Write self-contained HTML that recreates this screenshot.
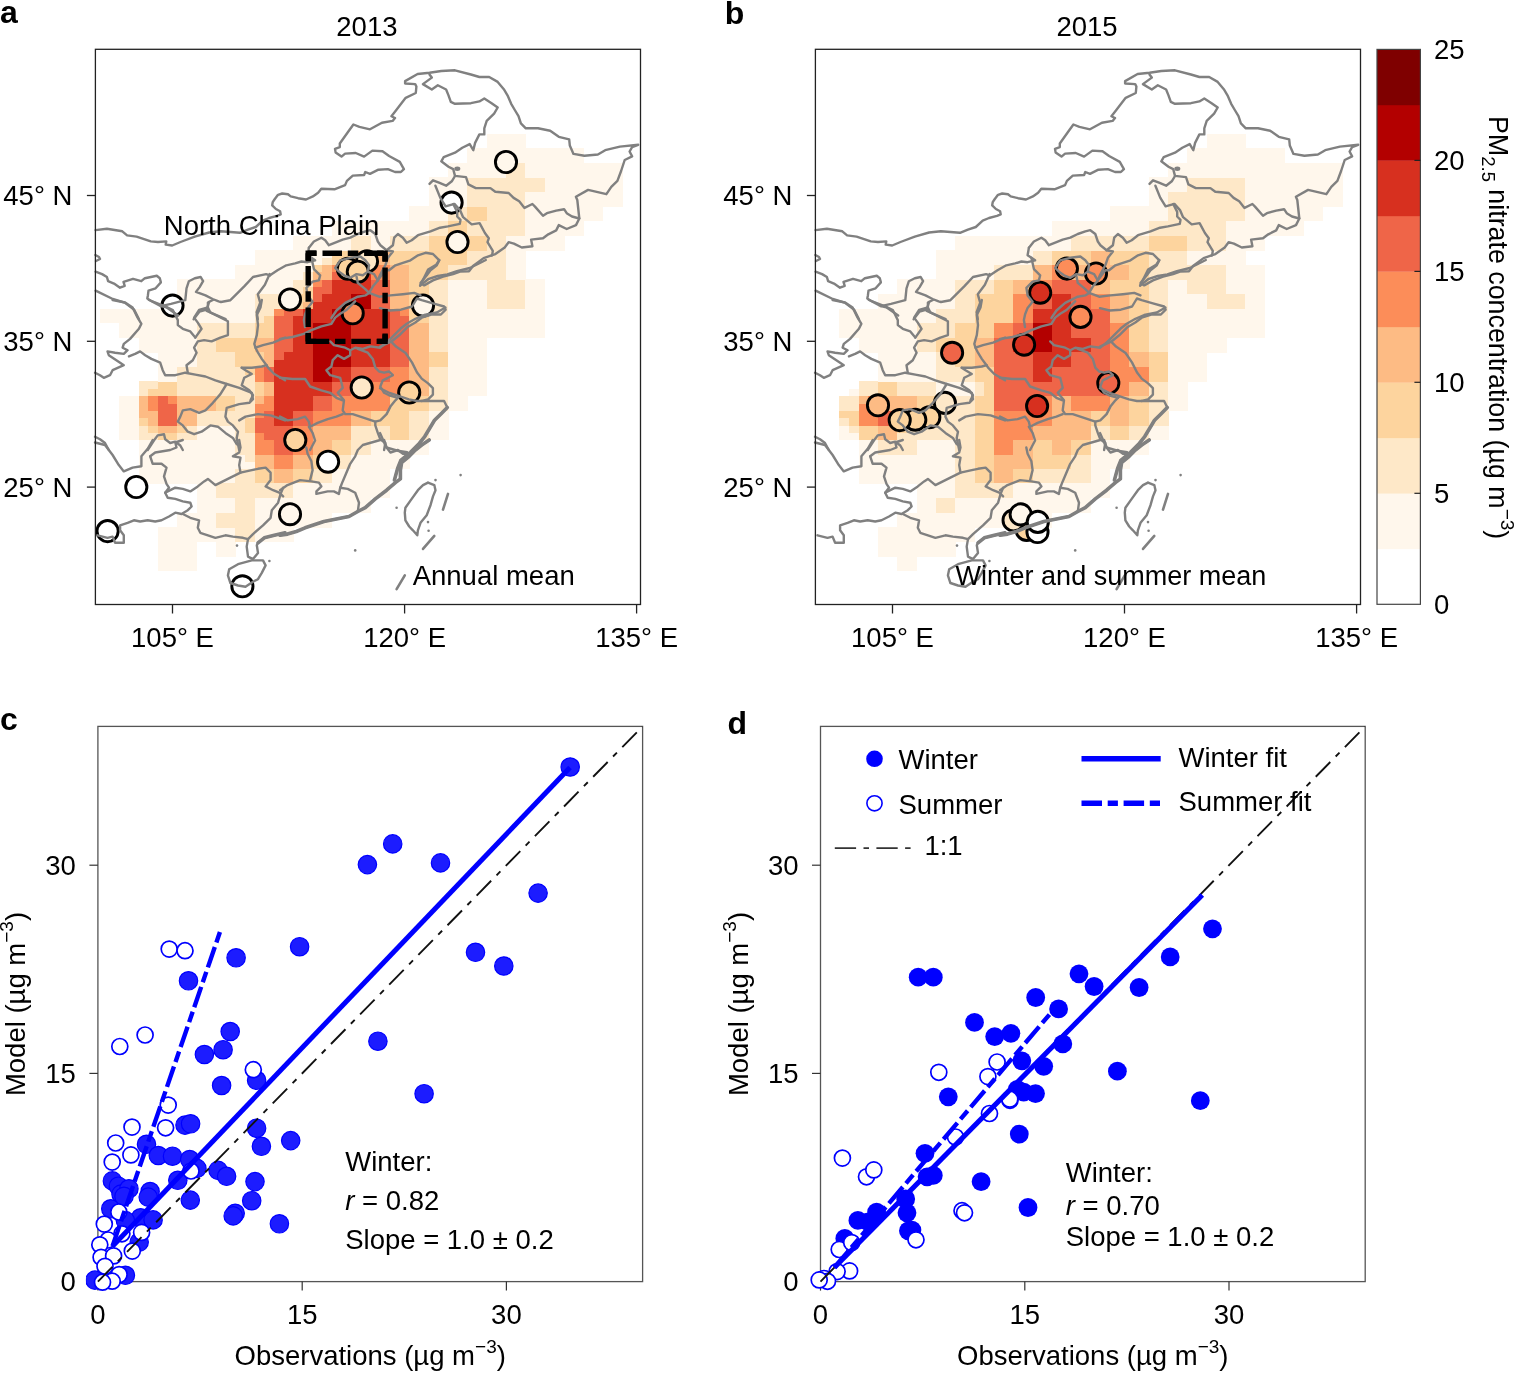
<!DOCTYPE html><html><head><meta charset="utf-8"><style>html,body{margin:0;padding:0;background:#fff;}svg{display:block;}</style></head><body><svg width="1515" height="1373" viewBox="0 0 1515 1373" font-family='"Liberation Sans", Arial, Helvetica, sans-serif'>
<rect width="1515" height="1373" fill="#fff"/>
<g shape-rendering="crispEdges">
<rect x="99.97" y="315.79" width="155.13" height="7.69" fill="#fff7ec"/>
<rect x="254.70" y="315.79" width="10.07" height="7.69" fill="#fee8c8"/>
<rect x="264.37" y="315.79" width="10.07" height="7.69" fill="#fdd49e"/>
<rect x="274.04" y="315.79" width="19.74" height="7.69" fill="#ef6548"/>
<rect x="293.38" y="315.79" width="39.08" height="7.69" fill="#d7301f"/>
<rect x="332.07" y="315.79" width="19.74" height="7.69" fill="#b30000"/>
<rect x="351.41" y="315.79" width="39.08" height="7.69" fill="#d7301f"/>
<rect x="390.09" y="315.79" width="19.74" height="7.69" fill="#ef6548"/>
<rect x="409.43" y="315.79" width="19.74" height="7.69" fill="#fdd49e"/>
<rect x="428.77" y="315.79" width="19.74" height="7.69" fill="#fee8c8"/>
<rect x="448.11" y="315.79" width="97.11" height="7.69" fill="#fff7ec"/>
<rect x="99.97" y="308.50" width="155.13" height="7.69" fill="#fff7ec"/>
<rect x="254.70" y="308.50" width="19.74" height="7.69" fill="#fee8c8"/>
<rect x="274.04" y="308.50" width="10.07" height="7.69" fill="#fc8d59"/>
<rect x="283.71" y="308.50" width="19.74" height="7.69" fill="#ef6548"/>
<rect x="303.05" y="308.50" width="29.41" height="7.69" fill="#d7301f"/>
<rect x="332.07" y="308.50" width="19.74" height="7.69" fill="#b30000"/>
<rect x="351.41" y="308.50" width="39.08" height="7.69" fill="#d7301f"/>
<rect x="390.09" y="308.50" width="10.07" height="7.69" fill="#ef6548"/>
<rect x="399.76" y="308.50" width="10.07" height="7.69" fill="#fc8d59"/>
<rect x="409.43" y="308.50" width="19.74" height="7.69" fill="#fdd49e"/>
<rect x="428.77" y="308.50" width="19.74" height="7.69" fill="#fee8c8"/>
<rect x="448.11" y="308.50" width="97.11" height="7.69" fill="#fff7ec"/>
<rect x="119.31" y="432.43" width="19.74" height="7.69" fill="#fff7ec"/>
<rect x="138.65" y="432.43" width="19.74" height="7.69" fill="#fee8c8"/>
<rect x="157.99" y="432.43" width="19.74" height="7.69" fill="#fdd49e"/>
<rect x="177.34" y="432.43" width="19.74" height="7.69" fill="#fee8c8"/>
<rect x="196.68" y="432.43" width="39.08" height="7.69" fill="#fff7ec"/>
<rect x="235.36" y="432.43" width="19.74" height="7.69" fill="#fee8c8"/>
<rect x="254.70" y="432.43" width="10.07" height="7.69" fill="#fc8d59"/>
<rect x="264.37" y="432.43" width="29.41" height="7.69" fill="#ef6548"/>
<rect x="293.38" y="432.43" width="19.74" height="7.69" fill="#fc8d59"/>
<rect x="312.72" y="432.43" width="39.08" height="7.69" fill="#fdbb84"/>
<rect x="351.41" y="432.43" width="39.08" height="7.69" fill="#fee8c8"/>
<rect x="390.09" y="432.43" width="19.74" height="7.69" fill="#fdd49e"/>
<rect x="409.43" y="432.43" width="19.74" height="7.69" fill="#fee8c8"/>
<rect x="428.77" y="432.43" width="19.74" height="7.69" fill="#fff7ec"/>
<rect x="119.31" y="425.13" width="19.74" height="7.69" fill="#fff7ec"/>
<rect x="138.65" y="425.13" width="10.07" height="7.69" fill="#fee8c8"/>
<rect x="148.32" y="425.13" width="10.07" height="7.69" fill="#fdd49e"/>
<rect x="157.99" y="425.13" width="19.74" height="7.69" fill="#fdbb84"/>
<rect x="177.34" y="425.13" width="10.07" height="7.69" fill="#fdd49e"/>
<rect x="187.01" y="425.13" width="10.07" height="7.69" fill="#fee8c8"/>
<rect x="196.68" y="425.13" width="39.08" height="7.69" fill="#fff7ec"/>
<rect x="235.36" y="425.13" width="10.07" height="7.69" fill="#fee8c8"/>
<rect x="245.03" y="425.13" width="10.07" height="7.69" fill="#fdd49e"/>
<rect x="254.70" y="425.13" width="39.08" height="7.69" fill="#ef6548"/>
<rect x="293.38" y="425.13" width="19.74" height="7.69" fill="#fc8d59"/>
<rect x="312.72" y="425.13" width="39.08" height="7.69" fill="#fdbb84"/>
<rect x="351.41" y="425.13" width="39.08" height="7.69" fill="#fee8c8"/>
<rect x="390.09" y="425.13" width="19.74" height="7.69" fill="#fdd49e"/>
<rect x="409.43" y="425.13" width="19.74" height="7.69" fill="#fee8c8"/>
<rect x="428.77" y="425.13" width="19.74" height="7.69" fill="#fff7ec"/>
<rect x="119.31" y="417.85" width="19.74" height="7.69" fill="#fff7ec"/>
<rect x="138.65" y="417.85" width="10.07" height="7.69" fill="#fdd49e"/>
<rect x="148.32" y="417.85" width="10.07" height="7.69" fill="#fdbb84"/>
<rect x="157.99" y="417.85" width="19.74" height="7.69" fill="#ef6548"/>
<rect x="177.34" y="417.85" width="19.74" height="7.69" fill="#fdbb84"/>
<rect x="196.68" y="417.85" width="48.75" height="7.69" fill="#fee8c8"/>
<rect x="245.03" y="417.85" width="10.07" height="7.69" fill="#fdd49e"/>
<rect x="254.70" y="417.85" width="19.74" height="7.69" fill="#ef6548"/>
<rect x="274.04" y="417.85" width="19.74" height="7.69" fill="#d7301f"/>
<rect x="293.38" y="417.85" width="19.74" height="7.69" fill="#ef6548"/>
<rect x="312.72" y="417.85" width="39.08" height="7.69" fill="#fc8d59"/>
<rect x="351.41" y="417.85" width="19.74" height="7.69" fill="#fdbb84"/>
<rect x="370.75" y="417.85" width="39.08" height="7.69" fill="#fdd49e"/>
<rect x="409.43" y="417.85" width="19.74" height="7.69" fill="#fee8c8"/>
<rect x="428.77" y="417.85" width="19.74" height="7.69" fill="#fff7ec"/>
<rect x="119.31" y="410.56" width="19.74" height="7.69" fill="#fff7ec"/>
<rect x="138.65" y="410.56" width="19.74" height="7.69" fill="#fdbb84"/>
<rect x="157.99" y="410.56" width="19.74" height="7.69" fill="#ef6548"/>
<rect x="177.34" y="410.56" width="19.74" height="7.69" fill="#fdbb84"/>
<rect x="196.68" y="410.56" width="58.42" height="7.69" fill="#fee8c8"/>
<rect x="254.70" y="410.56" width="10.07" height="7.69" fill="#fc8d59"/>
<rect x="264.37" y="410.56" width="10.07" height="7.69" fill="#ef6548"/>
<rect x="274.04" y="410.56" width="19.74" height="7.69" fill="#d7301f"/>
<rect x="293.38" y="410.56" width="19.74" height="7.69" fill="#ef6548"/>
<rect x="312.72" y="410.56" width="39.08" height="7.69" fill="#fc8d59"/>
<rect x="351.41" y="410.56" width="19.74" height="7.69" fill="#fdbb84"/>
<rect x="370.75" y="410.56" width="39.08" height="7.69" fill="#fdd49e"/>
<rect x="409.43" y="410.56" width="19.74" height="7.69" fill="#fee8c8"/>
<rect x="428.77" y="410.56" width="19.74" height="7.69" fill="#fff7ec"/>
<rect x="119.31" y="403.27" width="19.74" height="7.69" fill="#fff7ec"/>
<rect x="138.65" y="403.27" width="10.07" height="7.69" fill="#fdbb84"/>
<rect x="148.32" y="403.27" width="10.07" height="7.69" fill="#fc8d59"/>
<rect x="157.99" y="403.27" width="19.74" height="7.69" fill="#ef6548"/>
<rect x="177.34" y="403.27" width="39.08" height="7.69" fill="#fdbb84"/>
<rect x="216.02" y="403.27" width="19.74" height="7.69" fill="#fdd49e"/>
<rect x="235.36" y="403.27" width="19.74" height="7.69" fill="#fee8c8"/>
<rect x="254.70" y="403.27" width="19.74" height="7.69" fill="#fc8d59"/>
<rect x="274.04" y="403.27" width="39.08" height="7.69" fill="#d7301f"/>
<rect x="312.72" y="403.27" width="19.74" height="7.69" fill="#ef6548"/>
<rect x="332.07" y="403.27" width="58.42" height="7.69" fill="#fc8d59"/>
<rect x="390.09" y="403.27" width="39.08" height="7.69" fill="#fdd49e"/>
<rect x="428.77" y="403.27" width="19.74" height="7.69" fill="#fee8c8"/>
<rect x="448.11" y="403.27" width="19.74" height="7.69" fill="#fff7ec"/>
<rect x="119.31" y="395.98" width="19.74" height="7.69" fill="#fff7ec"/>
<rect x="138.65" y="395.98" width="10.07" height="7.69" fill="#fdbb84"/>
<rect x="148.32" y="395.98" width="10.07" height="7.69" fill="#fc8d59"/>
<rect x="157.99" y="395.98" width="10.07" height="7.69" fill="#ef6548"/>
<rect x="167.66" y="395.98" width="10.07" height="7.69" fill="#fc8d59"/>
<rect x="177.34" y="395.98" width="39.08" height="7.69" fill="#fdbb84"/>
<rect x="216.02" y="395.98" width="19.74" height="7.69" fill="#fdd49e"/>
<rect x="235.36" y="395.98" width="19.74" height="7.69" fill="#fee8c8"/>
<rect x="254.70" y="395.98" width="10.07" height="7.69" fill="#fdbb84"/>
<rect x="264.37" y="395.98" width="10.07" height="7.69" fill="#fc8d59"/>
<rect x="274.04" y="395.98" width="39.08" height="7.69" fill="#d7301f"/>
<rect x="312.72" y="395.98" width="19.74" height="7.69" fill="#ef6548"/>
<rect x="332.07" y="395.98" width="58.42" height="7.69" fill="#fc8d59"/>
<rect x="390.09" y="395.98" width="39.08" height="7.69" fill="#fdd49e"/>
<rect x="428.77" y="395.98" width="19.74" height="7.69" fill="#fee8c8"/>
<rect x="448.11" y="395.98" width="19.74" height="7.69" fill="#fff7ec"/>
<rect x="119.31" y="330.37" width="77.76" height="7.69" fill="#fff7ec"/>
<rect x="196.68" y="330.37" width="58.42" height="7.69" fill="#fee8c8"/>
<rect x="254.70" y="330.37" width="19.74" height="7.69" fill="#fdd49e"/>
<rect x="274.04" y="330.37" width="19.74" height="7.69" fill="#ef6548"/>
<rect x="293.38" y="330.37" width="19.74" height="7.69" fill="#d7301f"/>
<rect x="312.72" y="330.37" width="39.08" height="7.69" fill="#b30000"/>
<rect x="351.41" y="330.37" width="39.08" height="7.69" fill="#d7301f"/>
<rect x="390.09" y="330.37" width="19.74" height="7.69" fill="#ef6548"/>
<rect x="409.43" y="330.37" width="19.74" height="7.69" fill="#fdbb84"/>
<rect x="428.77" y="330.37" width="19.74" height="7.69" fill="#fee8c8"/>
<rect x="448.11" y="330.37" width="97.11" height="7.69" fill="#fff7ec"/>
<rect x="119.31" y="323.08" width="77.76" height="7.69" fill="#fff7ec"/>
<rect x="196.68" y="323.08" width="58.42" height="7.69" fill="#fee8c8"/>
<rect x="254.70" y="323.08" width="19.74" height="7.69" fill="#fdd49e"/>
<rect x="274.04" y="323.08" width="19.74" height="7.69" fill="#ef6548"/>
<rect x="293.38" y="323.08" width="19.74" height="7.69" fill="#d7301f"/>
<rect x="312.72" y="323.08" width="39.08" height="7.69" fill="#b30000"/>
<rect x="351.41" y="323.08" width="39.08" height="7.69" fill="#d7301f"/>
<rect x="390.09" y="323.08" width="19.74" height="7.69" fill="#ef6548"/>
<rect x="409.43" y="323.08" width="19.74" height="7.69" fill="#fdbb84"/>
<rect x="428.77" y="323.08" width="19.74" height="7.69" fill="#fee8c8"/>
<rect x="448.11" y="323.08" width="97.11" height="7.69" fill="#fff7ec"/>
<rect x="138.65" y="476.17" width="97.11" height="7.69" fill="#fff7ec"/>
<rect x="235.36" y="476.17" width="19.74" height="7.69" fill="#fee8c8"/>
<rect x="254.70" y="476.17" width="19.74" height="7.69" fill="#fdd49e"/>
<rect x="274.04" y="476.17" width="19.74" height="7.69" fill="#fdbb84"/>
<rect x="293.38" y="476.17" width="19.74" height="7.69" fill="#fdd49e"/>
<rect x="312.72" y="476.17" width="19.74" height="7.69" fill="#fee8c8"/>
<rect x="332.07" y="476.17" width="58.42" height="7.69" fill="#fff7ec"/>
<rect x="138.65" y="468.88" width="97.11" height="7.69" fill="#fff7ec"/>
<rect x="235.36" y="468.88" width="19.74" height="7.69" fill="#fee8c8"/>
<rect x="254.70" y="468.88" width="19.74" height="7.69" fill="#fdd49e"/>
<rect x="274.04" y="468.88" width="19.74" height="7.69" fill="#fdbb84"/>
<rect x="293.38" y="468.88" width="19.74" height="7.69" fill="#fdd49e"/>
<rect x="312.72" y="468.88" width="19.74" height="7.69" fill="#fee8c8"/>
<rect x="332.07" y="468.88" width="58.42" height="7.69" fill="#fff7ec"/>
<rect x="138.65" y="461.59" width="116.45" height="7.69" fill="#fff7ec"/>
<rect x="254.70" y="461.59" width="19.74" height="7.69" fill="#fdbb84"/>
<rect x="274.04" y="461.59" width="19.74" height="7.69" fill="#fc8d59"/>
<rect x="293.38" y="461.59" width="19.74" height="7.69" fill="#fdbb84"/>
<rect x="312.72" y="461.59" width="19.74" height="7.69" fill="#fdd49e"/>
<rect x="332.07" y="461.59" width="19.74" height="7.69" fill="#fee8c8"/>
<rect x="351.41" y="461.59" width="58.42" height="7.69" fill="#fff7ec"/>
<rect x="138.65" y="454.30" width="106.78" height="7.69" fill="#fff7ec"/>
<rect x="245.03" y="454.30" width="10.07" height="7.69" fill="#fee8c8"/>
<rect x="254.70" y="454.30" width="19.74" height="7.69" fill="#fdbb84"/>
<rect x="274.04" y="454.30" width="19.74" height="7.69" fill="#fc8d59"/>
<rect x="293.38" y="454.30" width="19.74" height="7.69" fill="#fdbb84"/>
<rect x="312.72" y="454.30" width="19.74" height="7.69" fill="#fdd49e"/>
<rect x="332.07" y="454.30" width="19.74" height="7.69" fill="#fee8c8"/>
<rect x="351.41" y="454.30" width="58.42" height="7.69" fill="#fff7ec"/>
<rect x="138.65" y="447.00" width="97.11" height="7.69" fill="#fff7ec"/>
<rect x="235.36" y="447.00" width="19.74" height="7.69" fill="#fee8c8"/>
<rect x="254.70" y="447.00" width="19.74" height="7.69" fill="#fc8d59"/>
<rect x="274.04" y="447.00" width="19.74" height="7.69" fill="#ef6548"/>
<rect x="293.38" y="447.00" width="19.74" height="7.69" fill="#fc8d59"/>
<rect x="312.72" y="447.00" width="19.74" height="7.69" fill="#fdbb84"/>
<rect x="332.07" y="447.00" width="19.74" height="7.69" fill="#fdd49e"/>
<rect x="351.41" y="447.00" width="19.74" height="7.69" fill="#fee8c8"/>
<rect x="370.75" y="447.00" width="58.42" height="7.69" fill="#fff7ec"/>
<rect x="138.65" y="439.72" width="97.11" height="7.69" fill="#fff7ec"/>
<rect x="235.36" y="439.72" width="19.74" height="7.69" fill="#fee8c8"/>
<rect x="254.70" y="439.72" width="19.74" height="7.69" fill="#fc8d59"/>
<rect x="274.04" y="439.72" width="19.74" height="7.69" fill="#ef6548"/>
<rect x="293.38" y="439.72" width="19.74" height="7.69" fill="#fc8d59"/>
<rect x="312.72" y="439.72" width="19.74" height="7.69" fill="#fdbb84"/>
<rect x="332.07" y="439.72" width="19.74" height="7.69" fill="#fdd49e"/>
<rect x="351.41" y="439.72" width="19.74" height="7.69" fill="#fee8c8"/>
<rect x="370.75" y="439.72" width="58.42" height="7.69" fill="#fff7ec"/>
<rect x="138.65" y="388.69" width="10.07" height="7.69" fill="#fee8c8"/>
<rect x="148.32" y="388.69" width="29.41" height="7.69" fill="#fdd49e"/>
<rect x="177.34" y="388.69" width="77.77" height="7.69" fill="#fee8c8"/>
<rect x="254.70" y="388.69" width="10.07" height="7.69" fill="#fdd49e"/>
<rect x="264.37" y="388.69" width="10.07" height="7.69" fill="#fdbb84"/>
<rect x="274.04" y="388.69" width="58.42" height="7.69" fill="#d7301f"/>
<rect x="332.07" y="388.69" width="19.74" height="7.69" fill="#ef6548"/>
<rect x="351.41" y="388.69" width="58.42" height="7.69" fill="#fc8d59"/>
<rect x="409.43" y="388.69" width="19.74" height="7.69" fill="#fdbb84"/>
<rect x="428.77" y="388.69" width="19.74" height="7.69" fill="#fee8c8"/>
<rect x="448.11" y="388.69" width="39.08" height="7.69" fill="#fff7ec"/>
<rect x="138.65" y="381.40" width="19.74" height="7.69" fill="#fee8c8"/>
<rect x="157.99" y="381.40" width="19.74" height="7.69" fill="#fdd49e"/>
<rect x="177.34" y="381.40" width="77.77" height="7.69" fill="#fee8c8"/>
<rect x="254.70" y="381.40" width="10.07" height="7.69" fill="#fdd49e"/>
<rect x="264.37" y="381.40" width="10.07" height="7.69" fill="#fdbb84"/>
<rect x="274.04" y="381.40" width="58.42" height="7.69" fill="#d7301f"/>
<rect x="332.07" y="381.40" width="19.74" height="7.69" fill="#ef6548"/>
<rect x="351.41" y="381.40" width="58.42" height="7.69" fill="#fc8d59"/>
<rect x="409.43" y="381.40" width="19.74" height="7.69" fill="#fdbb84"/>
<rect x="428.77" y="381.40" width="19.74" height="7.69" fill="#fee8c8"/>
<rect x="448.11" y="381.40" width="39.08" height="7.69" fill="#fff7ec"/>
<rect x="138.65" y="344.95" width="58.42" height="7.69" fill="#fff7ec"/>
<rect x="196.68" y="344.95" width="19.74" height="7.69" fill="#fee8c8"/>
<rect x="216.02" y="344.95" width="39.08" height="7.69" fill="#fdd49e"/>
<rect x="254.70" y="344.95" width="19.74" height="7.69" fill="#fdbb84"/>
<rect x="274.04" y="344.95" width="19.74" height="7.69" fill="#ef6548"/>
<rect x="293.38" y="344.95" width="19.74" height="7.69" fill="#d7301f"/>
<rect x="312.72" y="344.95" width="39.08" height="7.69" fill="#b30000"/>
<rect x="351.41" y="344.95" width="39.08" height="7.69" fill="#d7301f"/>
<rect x="390.09" y="344.95" width="19.74" height="7.69" fill="#ef6548"/>
<rect x="409.43" y="344.95" width="19.74" height="7.69" fill="#fdbb84"/>
<rect x="428.77" y="344.95" width="19.74" height="7.69" fill="#fee8c8"/>
<rect x="448.11" y="344.95" width="39.08" height="7.69" fill="#fff7ec"/>
<rect x="138.65" y="337.66" width="58.42" height="7.69" fill="#fff7ec"/>
<rect x="196.68" y="337.66" width="19.74" height="7.69" fill="#fee8c8"/>
<rect x="216.02" y="337.66" width="39.08" height="7.69" fill="#fdd49e"/>
<rect x="254.70" y="337.66" width="19.74" height="7.69" fill="#fdbb84"/>
<rect x="274.04" y="337.66" width="19.74" height="7.69" fill="#ef6548"/>
<rect x="293.38" y="337.66" width="19.74" height="7.69" fill="#d7301f"/>
<rect x="312.72" y="337.66" width="39.08" height="7.69" fill="#b30000"/>
<rect x="351.41" y="337.66" width="39.08" height="7.69" fill="#d7301f"/>
<rect x="390.09" y="337.66" width="19.74" height="7.69" fill="#ef6548"/>
<rect x="409.43" y="337.66" width="19.74" height="7.69" fill="#fdbb84"/>
<rect x="428.77" y="337.66" width="19.74" height="7.69" fill="#fee8c8"/>
<rect x="448.11" y="337.66" width="39.08" height="7.69" fill="#fff7ec"/>
<rect x="157.99" y="563.64" width="39.08" height="7.69" fill="#fff7ec"/>
<rect x="157.99" y="556.36" width="39.08" height="7.69" fill="#fff7ec"/>
<rect x="157.99" y="549.07" width="39.08" height="7.69" fill="#fff7ec"/>
<rect x="216.02" y="549.07" width="19.74" height="7.69" fill="#fff7ec"/>
<rect x="157.99" y="541.77" width="39.08" height="7.69" fill="#fff7ec"/>
<rect x="216.02" y="541.77" width="19.74" height="7.69" fill="#fff7ec"/>
<rect x="157.99" y="534.49" width="77.76" height="7.69" fill="#fff7ec"/>
<rect x="235.36" y="534.49" width="19.74" height="7.69" fill="#fee8c8"/>
<rect x="254.70" y="534.49" width="39.08" height="7.69" fill="#fff7ec"/>
<rect x="157.99" y="527.20" width="77.76" height="7.69" fill="#fff7ec"/>
<rect x="235.36" y="527.20" width="19.74" height="7.69" fill="#fee8c8"/>
<rect x="254.70" y="527.20" width="39.08" height="7.69" fill="#fff7ec"/>
<rect x="157.99" y="374.11" width="19.74" height="7.69" fill="#fff7ec"/>
<rect x="177.34" y="374.11" width="77.77" height="7.69" fill="#fee8c8"/>
<rect x="254.70" y="374.11" width="10.07" height="7.69" fill="#fc8d59"/>
<rect x="264.37" y="374.11" width="10.07" height="7.69" fill="#ef6548"/>
<rect x="274.04" y="374.11" width="39.08" height="7.69" fill="#d7301f"/>
<rect x="312.72" y="374.11" width="19.74" height="7.69" fill="#b30000"/>
<rect x="332.07" y="374.11" width="19.74" height="7.69" fill="#d7301f"/>
<rect x="351.41" y="374.11" width="39.08" height="7.69" fill="#ef6548"/>
<rect x="390.09" y="374.11" width="19.74" height="7.69" fill="#fc8d59"/>
<rect x="409.43" y="374.11" width="19.74" height="7.69" fill="#fdbb84"/>
<rect x="428.77" y="374.11" width="19.74" height="7.69" fill="#fee8c8"/>
<rect x="448.11" y="374.11" width="39.08" height="7.69" fill="#fff7ec"/>
<rect x="157.99" y="366.82" width="19.74" height="7.69" fill="#fff7ec"/>
<rect x="177.34" y="366.82" width="68.09" height="7.69" fill="#fee8c8"/>
<rect x="245.03" y="366.82" width="10.07" height="7.69" fill="#fdd49e"/>
<rect x="254.70" y="366.82" width="10.07" height="7.69" fill="#fc8d59"/>
<rect x="264.37" y="366.82" width="10.07" height="7.69" fill="#ef6548"/>
<rect x="274.04" y="366.82" width="39.08" height="7.69" fill="#d7301f"/>
<rect x="312.72" y="366.82" width="19.74" height="7.69" fill="#b30000"/>
<rect x="332.07" y="366.82" width="19.74" height="7.69" fill="#d7301f"/>
<rect x="351.41" y="366.82" width="39.08" height="7.69" fill="#ef6548"/>
<rect x="390.09" y="366.82" width="19.74" height="7.69" fill="#fc8d59"/>
<rect x="409.43" y="366.82" width="19.74" height="7.69" fill="#fdbb84"/>
<rect x="428.77" y="366.82" width="19.74" height="7.69" fill="#fee8c8"/>
<rect x="448.11" y="366.82" width="39.08" height="7.69" fill="#fff7ec"/>
<rect x="157.99" y="359.53" width="39.08" height="7.69" fill="#fff7ec"/>
<rect x="196.68" y="359.53" width="39.08" height="7.69" fill="#fee8c8"/>
<rect x="235.36" y="359.53" width="29.41" height="7.69" fill="#fdd49e"/>
<rect x="264.37" y="359.53" width="10.07" height="7.69" fill="#fdbb84"/>
<rect x="274.04" y="359.53" width="39.08" height="7.69" fill="#d7301f"/>
<rect x="312.72" y="359.53" width="39.08" height="7.69" fill="#b30000"/>
<rect x="351.41" y="359.53" width="39.08" height="7.69" fill="#d7301f"/>
<rect x="390.09" y="359.53" width="19.74" height="7.69" fill="#ef6548"/>
<rect x="409.43" y="359.53" width="19.74" height="7.69" fill="#fdbb84"/>
<rect x="428.77" y="359.53" width="19.74" height="7.69" fill="#fdd49e"/>
<rect x="448.11" y="359.53" width="39.08" height="7.69" fill="#fff7ec"/>
<rect x="157.99" y="352.24" width="39.08" height="7.69" fill="#fff7ec"/>
<rect x="196.68" y="352.24" width="39.08" height="7.69" fill="#fee8c8"/>
<rect x="235.36" y="352.24" width="29.41" height="7.69" fill="#fdd49e"/>
<rect x="264.37" y="352.24" width="10.07" height="7.69" fill="#fdbb84"/>
<rect x="274.04" y="352.24" width="10.07" height="7.69" fill="#ef6548"/>
<rect x="283.71" y="352.24" width="29.41" height="7.69" fill="#d7301f"/>
<rect x="312.72" y="352.24" width="39.08" height="7.69" fill="#b30000"/>
<rect x="351.41" y="352.24" width="39.08" height="7.69" fill="#d7301f"/>
<rect x="390.09" y="352.24" width="19.74" height="7.69" fill="#ef6548"/>
<rect x="409.43" y="352.24" width="19.74" height="7.69" fill="#fdbb84"/>
<rect x="428.77" y="352.24" width="19.74" height="7.69" fill="#fdd49e"/>
<rect x="448.11" y="352.24" width="39.08" height="7.69" fill="#fff7ec"/>
<rect x="177.34" y="519.90" width="39.08" height="7.69" fill="#fff7ec"/>
<rect x="216.02" y="519.90" width="39.08" height="7.69" fill="#fee8c8"/>
<rect x="254.70" y="519.90" width="77.77" height="7.69" fill="#fff7ec"/>
<rect x="177.34" y="512.62" width="39.08" height="7.69" fill="#fff7ec"/>
<rect x="216.02" y="512.62" width="39.08" height="7.69" fill="#fee8c8"/>
<rect x="254.70" y="512.62" width="77.77" height="7.69" fill="#fff7ec"/>
<rect x="177.34" y="301.21" width="77.77" height="7.69" fill="#fff7ec"/>
<rect x="254.70" y="301.21" width="29.41" height="7.69" fill="#fee8c8"/>
<rect x="283.71" y="301.21" width="19.74" height="7.69" fill="#fdd49e"/>
<rect x="303.05" y="301.21" width="10.07" height="7.69" fill="#fdbb84"/>
<rect x="312.72" y="301.21" width="39.08" height="7.69" fill="#d7301f"/>
<rect x="351.41" y="301.21" width="19.74" height="7.69" fill="#b30000"/>
<rect x="370.75" y="301.21" width="19.74" height="7.69" fill="#ef6548"/>
<rect x="390.09" y="301.21" width="19.74" height="7.69" fill="#fdbb84"/>
<rect x="409.43" y="301.21" width="19.74" height="7.69" fill="#fdd49e"/>
<rect x="428.77" y="301.21" width="19.74" height="7.69" fill="#fee8c8"/>
<rect x="448.11" y="301.21" width="39.08" height="7.69" fill="#fff7ec"/>
<rect x="486.80" y="301.21" width="39.08" height="7.69" fill="#fee8c8"/>
<rect x="525.48" y="301.21" width="19.74" height="7.69" fill="#fff7ec"/>
<rect x="177.34" y="293.92" width="77.77" height="7.69" fill="#fff7ec"/>
<rect x="254.70" y="293.92" width="39.08" height="7.69" fill="#fee8c8"/>
<rect x="293.38" y="293.92" width="19.74" height="7.69" fill="#fdd49e"/>
<rect x="312.72" y="293.92" width="10.07" height="7.69" fill="#ef6548"/>
<rect x="322.39" y="293.92" width="29.41" height="7.69" fill="#d7301f"/>
<rect x="351.41" y="293.92" width="19.74" height="7.69" fill="#b30000"/>
<rect x="370.75" y="293.92" width="19.74" height="7.69" fill="#ef6548"/>
<rect x="390.09" y="293.92" width="19.74" height="7.69" fill="#fdbb84"/>
<rect x="409.43" y="293.92" width="19.74" height="7.69" fill="#fdd49e"/>
<rect x="428.77" y="293.92" width="19.74" height="7.69" fill="#fee8c8"/>
<rect x="448.11" y="293.92" width="39.08" height="7.69" fill="#fff7ec"/>
<rect x="486.80" y="293.92" width="39.08" height="7.69" fill="#fee8c8"/>
<rect x="525.48" y="293.92" width="19.74" height="7.69" fill="#fff7ec"/>
<rect x="177.34" y="286.62" width="116.45" height="7.69" fill="#fff7ec"/>
<rect x="293.38" y="286.62" width="10.07" height="7.69" fill="#fee8c8"/>
<rect x="303.05" y="286.62" width="10.07" height="7.69" fill="#fdd49e"/>
<rect x="312.72" y="286.62" width="19.74" height="7.69" fill="#ef6548"/>
<rect x="332.07" y="286.62" width="39.08" height="7.69" fill="#d7301f"/>
<rect x="370.75" y="286.62" width="19.74" height="7.69" fill="#ef6548"/>
<rect x="390.09" y="286.62" width="19.74" height="7.69" fill="#fdbb84"/>
<rect x="409.43" y="286.62" width="19.74" height="7.69" fill="#fdd49e"/>
<rect x="428.77" y="286.62" width="19.74" height="7.69" fill="#fee8c8"/>
<rect x="448.11" y="286.62" width="39.08" height="7.69" fill="#fff7ec"/>
<rect x="486.80" y="286.62" width="39.08" height="7.69" fill="#fee8c8"/>
<rect x="525.48" y="286.62" width="19.74" height="7.69" fill="#fff7ec"/>
<rect x="177.34" y="279.34" width="116.45" height="7.69" fill="#fff7ec"/>
<rect x="293.38" y="279.34" width="19.74" height="7.69" fill="#fee8c8"/>
<rect x="312.72" y="279.34" width="10.07" height="7.69" fill="#fc8d59"/>
<rect x="322.39" y="279.34" width="10.07" height="7.69" fill="#ef6548"/>
<rect x="332.07" y="279.34" width="39.08" height="7.69" fill="#d7301f"/>
<rect x="370.75" y="279.34" width="19.74" height="7.69" fill="#ef6548"/>
<rect x="390.09" y="279.34" width="19.74" height="7.69" fill="#fdbb84"/>
<rect x="409.43" y="279.34" width="19.74" height="7.69" fill="#fdd49e"/>
<rect x="428.77" y="279.34" width="19.74" height="7.69" fill="#fee8c8"/>
<rect x="448.11" y="279.34" width="39.08" height="7.69" fill="#fff7ec"/>
<rect x="486.80" y="279.34" width="39.08" height="7.69" fill="#fee8c8"/>
<rect x="525.48" y="279.34" width="19.74" height="7.69" fill="#fff7ec"/>
<rect x="196.68" y="505.33" width="39.08" height="7.69" fill="#fff7ec"/>
<rect x="235.36" y="505.33" width="19.74" height="7.69" fill="#fee8c8"/>
<rect x="254.70" y="505.33" width="116.45" height="7.69" fill="#fff7ec"/>
<rect x="196.68" y="498.04" width="39.08" height="7.69" fill="#fff7ec"/>
<rect x="235.36" y="498.04" width="19.74" height="7.69" fill="#fee8c8"/>
<rect x="254.70" y="498.04" width="116.45" height="7.69" fill="#fff7ec"/>
<rect x="196.68" y="490.75" width="19.74" height="7.69" fill="#fff7ec"/>
<rect x="216.02" y="490.75" width="77.77" height="7.69" fill="#fee8c8"/>
<rect x="293.38" y="490.75" width="97.11" height="7.69" fill="#fff7ec"/>
<rect x="196.68" y="483.46" width="19.74" height="7.69" fill="#fff7ec"/>
<rect x="216.02" y="483.46" width="77.77" height="7.69" fill="#fee8c8"/>
<rect x="293.38" y="483.46" width="97.11" height="7.69" fill="#fff7ec"/>
<rect x="235.36" y="272.05" width="68.09" height="7.69" fill="#fff7ec"/>
<rect x="303.05" y="272.05" width="10.07" height="7.69" fill="#fee8c8"/>
<rect x="312.72" y="272.05" width="19.74" height="7.69" fill="#fdbb84"/>
<rect x="332.07" y="272.05" width="19.74" height="7.69" fill="#ef6548"/>
<rect x="351.41" y="272.05" width="19.74" height="7.69" fill="#d7301f"/>
<rect x="370.75" y="272.05" width="19.74" height="7.69" fill="#fc8d59"/>
<rect x="390.09" y="272.05" width="19.74" height="7.69" fill="#fdbb84"/>
<rect x="409.43" y="272.05" width="39.08" height="7.69" fill="#fdd49e"/>
<rect x="448.11" y="272.05" width="58.42" height="7.69" fill="#fee8c8"/>
<rect x="506.14" y="272.05" width="19.74" height="7.69" fill="#fff7ec"/>
<rect x="235.36" y="264.75" width="77.77" height="7.69" fill="#fff7ec"/>
<rect x="312.72" y="264.75" width="10.07" height="7.69" fill="#fdd49e"/>
<rect x="322.39" y="264.75" width="10.07" height="7.69" fill="#fdbb84"/>
<rect x="332.07" y="264.75" width="10.07" height="7.69" fill="#fc8d59"/>
<rect x="341.74" y="264.75" width="10.07" height="7.69" fill="#ef6548"/>
<rect x="351.41" y="264.75" width="10.07" height="7.69" fill="#d7301f"/>
<rect x="361.08" y="264.75" width="10.07" height="7.69" fill="#ef6548"/>
<rect x="370.75" y="264.75" width="19.74" height="7.69" fill="#fc8d59"/>
<rect x="390.09" y="264.75" width="19.74" height="7.69" fill="#fdbb84"/>
<rect x="409.43" y="264.75" width="39.08" height="7.69" fill="#fdd49e"/>
<rect x="448.11" y="264.75" width="58.42" height="7.69" fill="#fee8c8"/>
<rect x="506.14" y="264.75" width="19.74" height="7.69" fill="#fff7ec"/>
<rect x="254.70" y="257.47" width="68.09" height="7.69" fill="#fff7ec"/>
<rect x="322.39" y="257.47" width="10.07" height="7.69" fill="#fee8c8"/>
<rect x="332.07" y="257.47" width="10.07" height="7.69" fill="#fdd49e"/>
<rect x="341.74" y="257.47" width="48.75" height="7.69" fill="#fdbb84"/>
<rect x="390.09" y="257.47" width="77.77" height="7.69" fill="#fdd49e"/>
<rect x="467.45" y="257.47" width="39.08" height="7.69" fill="#fee8c8"/>
<rect x="506.14" y="257.47" width="19.74" height="7.69" fill="#fff7ec"/>
<rect x="254.70" y="250.18" width="77.77" height="7.69" fill="#fff7ec"/>
<rect x="332.07" y="250.18" width="19.74" height="7.69" fill="#fdd49e"/>
<rect x="351.41" y="250.18" width="39.08" height="7.69" fill="#fdbb84"/>
<rect x="390.09" y="250.18" width="77.77" height="7.69" fill="#fdd49e"/>
<rect x="467.45" y="250.18" width="39.08" height="7.69" fill="#fee8c8"/>
<rect x="506.14" y="250.18" width="19.74" height="7.69" fill="#fff7ec"/>
<rect x="293.38" y="242.89" width="58.42" height="7.69" fill="#fff7ec"/>
<rect x="351.41" y="242.89" width="19.74" height="7.69" fill="#fee8c8"/>
<rect x="370.75" y="242.89" width="19.74" height="7.69" fill="#fff7ec"/>
<rect x="390.09" y="242.89" width="39.08" height="7.69" fill="#fee8c8"/>
<rect x="428.77" y="242.89" width="58.42" height="7.69" fill="#fdd49e"/>
<rect x="486.80" y="242.89" width="19.74" height="7.69" fill="#fee8c8"/>
<rect x="506.14" y="242.89" width="58.42" height="7.69" fill="#fff7ec"/>
<rect x="293.38" y="235.60" width="58.42" height="7.69" fill="#fff7ec"/>
<rect x="351.41" y="235.60" width="19.74" height="7.69" fill="#fee8c8"/>
<rect x="370.75" y="235.60" width="19.74" height="7.69" fill="#fff7ec"/>
<rect x="390.09" y="235.60" width="39.08" height="7.69" fill="#fee8c8"/>
<rect x="428.77" y="235.60" width="58.42" height="7.69" fill="#fdd49e"/>
<rect x="486.80" y="235.60" width="19.74" height="7.69" fill="#fee8c8"/>
<rect x="506.14" y="235.60" width="58.42" height="7.69" fill="#fff7ec"/>
<rect x="332.07" y="228.31" width="97.11" height="7.69" fill="#fff7ec"/>
<rect x="428.77" y="228.31" width="19.74" height="7.69" fill="#fee8c8"/>
<rect x="448.11" y="228.31" width="19.74" height="7.69" fill="#fdd49e"/>
<rect x="467.45" y="228.31" width="58.42" height="7.69" fill="#fee8c8"/>
<rect x="525.48" y="228.31" width="58.42" height="7.69" fill="#fff7ec"/>
<rect x="332.07" y="221.02" width="97.11" height="7.69" fill="#fff7ec"/>
<rect x="428.77" y="221.02" width="19.74" height="7.69" fill="#fee8c8"/>
<rect x="448.11" y="221.02" width="19.74" height="7.69" fill="#fdd49e"/>
<rect x="467.45" y="221.02" width="58.42" height="7.69" fill="#fee8c8"/>
<rect x="525.48" y="221.02" width="58.42" height="7.69" fill="#fff7ec"/>
<rect x="409.43" y="213.73" width="39.08" height="7.69" fill="#fff7ec"/>
<rect x="448.11" y="213.73" width="19.74" height="7.69" fill="#fee8c8"/>
<rect x="467.45" y="213.73" width="19.74" height="7.69" fill="#fdd49e"/>
<rect x="486.80" y="213.73" width="39.08" height="7.69" fill="#fee8c8"/>
<rect x="525.48" y="213.73" width="77.77" height="7.69" fill="#fff7ec"/>
<rect x="409.43" y="206.44" width="39.08" height="7.69" fill="#fff7ec"/>
<rect x="448.11" y="206.44" width="19.74" height="7.69" fill="#fee8c8"/>
<rect x="467.45" y="206.44" width="19.74" height="7.69" fill="#fdd49e"/>
<rect x="486.80" y="206.44" width="39.08" height="7.69" fill="#fee8c8"/>
<rect x="525.48" y="206.44" width="77.77" height="7.69" fill="#fff7ec"/>
<rect x="428.77" y="199.15" width="39.08" height="7.69" fill="#fff7ec"/>
<rect x="467.45" y="199.15" width="58.42" height="7.69" fill="#fee8c8"/>
<rect x="525.48" y="199.15" width="97.11" height="7.69" fill="#fff7ec"/>
<rect x="428.77" y="191.86" width="39.08" height="7.69" fill="#fff7ec"/>
<rect x="467.45" y="191.86" width="58.42" height="7.69" fill="#fee8c8"/>
<rect x="525.48" y="191.86" width="97.11" height="7.69" fill="#fff7ec"/>
<rect x="428.77" y="184.56" width="39.08" height="7.69" fill="#fff7ec"/>
<rect x="467.45" y="184.56" width="77.76" height="7.69" fill="#fee8c8"/>
<rect x="544.82" y="184.56" width="77.77" height="7.69" fill="#fff7ec"/>
<rect x="428.77" y="177.28" width="39.08" height="7.69" fill="#fff7ec"/>
<rect x="467.45" y="177.28" width="77.76" height="7.69" fill="#fee8c8"/>
<rect x="544.82" y="177.28" width="77.77" height="7.69" fill="#fff7ec"/>
<rect x="448.11" y="169.99" width="58.42" height="7.69" fill="#fff7ec"/>
<rect x="506.14" y="169.99" width="19.74" height="7.69" fill="#fee8c8"/>
<rect x="525.48" y="169.99" width="97.11" height="7.69" fill="#fff7ec"/>
<rect x="448.11" y="162.69" width="58.42" height="7.69" fill="#fff7ec"/>
<rect x="506.14" y="162.69" width="19.74" height="7.69" fill="#fee8c8"/>
<rect x="525.48" y="162.69" width="97.11" height="7.69" fill="#fff7ec"/>
<rect x="467.45" y="155.41" width="116.45" height="7.69" fill="#fff7ec"/>
<rect x="467.45" y="148.12" width="116.45" height="7.69" fill="#fff7ec"/>
<rect x="486.80" y="140.83" width="39.08" height="7.69" fill="#fff7ec"/>
<rect x="486.80" y="133.54" width="39.08" height="7.69" fill="#fff7ec"/>
</g>
<circle cx="506.0" cy="162.0" r="10.6" fill="#fff7ec" stroke="#000" stroke-width="2.9"/>
<circle cx="451.6" cy="202.6" r="10.6" fill="#ffffff" stroke="#000" stroke-width="2.9"/>
<circle cx="457.5" cy="242.0" r="10.6" fill="#fff7ec" stroke="#000" stroke-width="2.9"/>
<circle cx="290.0" cy="299.5" r="10.6" fill="#fff7ec" stroke="#000" stroke-width="2.9"/>
<circle cx="172.5" cy="305.6" r="10.6" fill="#ffffff" stroke="#000" stroke-width="2.9"/>
<circle cx="352.7" cy="313.3" r="10.6" fill="#fc8d59" stroke="#000" stroke-width="2.9"/>
<circle cx="347.9" cy="268.8" r="10.6" fill="#fdd49e" stroke="#000" stroke-width="2.9"/>
<circle cx="367.0" cy="261.2" r="10.6" fill="#fee8c8" stroke="#000" stroke-width="2.9"/>
<circle cx="357.8" cy="271.7" r="10.6" fill="#fdd49e" stroke="#000" stroke-width="2.9"/>
<circle cx="423.0" cy="305.5" r="10.6" fill="#fff7ec" stroke="#000" stroke-width="2.9"/>
<circle cx="361.7" cy="387.5" r="10.6" fill="#fee8c8" stroke="#000" stroke-width="2.9"/>
<circle cx="409.2" cy="392.5" r="10.6" fill="#fdd49e" stroke="#000" stroke-width="2.9"/>
<circle cx="295.3" cy="440.0" r="10.6" fill="#fdd49e" stroke="#000" stroke-width="2.9"/>
<circle cx="328.1" cy="461.7" r="10.6" fill="#ffffff" stroke="#000" stroke-width="2.9"/>
<circle cx="136.3" cy="487.0" r="10.6" fill="#ffffff" stroke="#000" stroke-width="2.9"/>
<circle cx="107.6" cy="531.1" r="10.6" fill="#ffffff" stroke="#000" stroke-width="2.9"/>
<circle cx="290.0" cy="514.2" r="10.6" fill="#fff7ec" stroke="#000" stroke-width="2.9"/>
<circle cx="242.4" cy="586.3" r="10.6" fill="#ffffff" stroke="#000" stroke-width="2.9"/>
<g transform="translate(0,0)" fill="none" stroke="#808080" stroke-width="2.4" stroke-linejoin="round" stroke-linecap="round">
<path d="M95.6,230.1 L106.9,228.7 L122.3,231.3 L127.1,235.4 L136.6,236.6 L150.8,241.4 L158.0,242.0 L166.3,241.4 L165.7,244.6 L172.2,245.5 L180.5,242.0 L194.8,236.6 L209.1,232.5 L220.9,231.3 L240.0,232.8 L247.9,229.6 L255.8,227.0 L262.7,220.7 L269.0,218.0 L277.0,215.9 L280.7,214.3 L280.1,211.2 L275.9,209.0 L272.2,205.3 L272.7,202.2 L274.8,199.0 L278.0,194.8 L282.2,193.5 L288.0,194.3 L290.7,196.4 L298.1,198.2 L306.0,199.5 L312.9,196.4 L318.1,192.7 L321.3,188.7 L334.4,189.3 L345.1,185.1 L346.9,180.9 L352.8,175.6 L364.1,175.0 L365.3,172.0 L370.0,173.8 L378.4,169.7 L387.9,169.1 L395.0,172.0 L400.9,172.0 L403.9,169.1 L399.8,161.9 L389.1,156.0 L382.5,151.2 L372.4,150.6 L364.1,156.6 L355.8,153.0 L345.1,153.6 L341.5,156.6 L335.6,152.4 L335.0,148.9 L339.8,147.1 L339.8,143.5 L348.7,131.0 L353.4,124.5 L359.4,126.9 L370.0,129.3 L381.9,122.7 L392.6,120.9 L395.0,118.0 L391.4,116.2 L393.8,113.2 L405.7,97.8 L415.8,93.0 L416.4,86.5 L415.2,84.1 L405.1,83.5 L405.1,81.1 L417.6,74.0 L429.5,72.8 L441.3,71.0 L455.0,70.3 L470.9,74.5 L479.4,77.0 L489.2,77.0 L497.7,81.9 L503.8,89.2 L507.5,95.3 L511.2,103.8 L514.8,110.0 L518.5,116.1 L520.9,123.4 L525.8,128.3 L538.0,128.3 L550.2,130.7 L558.8,136.8 L569.2,139.3 L569.8,145.4 L573.5,153.9 L584.4,155.7 L597.9,154.5 L605.2,150.2 L619.9,146.6 L638.2,144.8 L632.1,147.2 L629.6,151.5 L632.1,156.4 L624.7,160.0 L621.1,171.0 L617.4,180.8 L611.3,186.9 L606.4,194.2 L588.1,189.9 L575.9,196.7 L577.3,200.0 L579.3,218.5 L576.0,225.1 L566.7,229.0 L558.8,225.1 L556.2,230.4 L548.3,234.3 L543.0,238.3 L531.1,239.6 L532.4,246.2 L521.8,247.5 L513.9,243.6 L508.6,242.2 L504.7,247.5 L495.4,254.1 L491.5,255.4"/>
<path d="M429.5,74.6 L431.8,77.6 L422.9,84.1 L431.8,89.5 L437.8,85.3 L446.1,89.5 L448.5,95.4 L450.8,101.9 L455.0,103.8 L470.9,103.2 L479.4,101.4 L484.3,98.4 L491.6,103.2 L497.7,107.5 L494.1,113.6 L486.7,120.9 L484.3,128.3 L484.3,134.4 L479.4,134.4 L475.1,142.9 L473.3,150.2 L469.7,144.1 L462.3,147.8 L455.0,152.7 L443.7,157.2 L441.3,161.3 L448.5,166.7 L453.2,169.1 L455.0,175.9 L466.0,177.1 L468.4,184.4 L475.8,188.1 L490.4,188.1 L495.3,191.8 L508.7,193.0 L513.6,197.9 L519.2,201.3 L524.5,207.9 L532.4,204.0 L535.0,206.6 L543.0,215.8 L546.9,213.2 L556.2,210.6 L564.1,209.2 L566.7,213.2 L572.0,216.5 L579.3,218.5"/>
<path d="M429.5,183.9 L433.0,180.3 L439.0,182.7 L446.1,185.7 L451.8,181.3 L455.0,176.0"/>
<path d="M435.4,185.7 L440.2,197.6 L445.6,206.4 L454.4,203.9 L460.0,210.1 L463.1,217.2 L471.7,224.4 L479.6,223.1 L484.9,233.0 L488.8,238.3 L487.5,242.2 L492.8,250.8 L492.1,255.4"/>
<path d="M308.9,247.8 L313.9,241.5 L321.4,237.7 L325.2,240.2 L328.9,245.2 L335.2,242.7 L342.7,239.6 L350.3,237.7 L357.8,234.0 L365.3,231.4 L370.3,230.2 L375.3,234.0 L377.8,241.5 L380.4,245.2 L386.6,250.3 L392.9,245.2 L394.2,237.7 L397.9,234.0 L402.9,237.7 L406.7,242.7 L411.7,240.2 L418.0,235.2 L430.5,231.4 L440.0,227.7 L447.9,226.4 L459.8,223.8 L460.5,219.8 L457.2,216.5 L457.2,211.9 L453.2,204.0"/>
<path d="M386.6,250.3 L392.9,251.5 L387.9,257.8 L385.4,265.0 L380.0,275.0 L377.8,280.4"/>
<path d="M270.0,275.3 L277.5,270.3 L286.3,265.3 L295.1,263.4 L301.4,261.5 L307.6,262.2 L315.1,260.3 L311.4,257.8 L307.6,255.3 L308.9,247.8"/>
<path d="M335.2,267.8 L340.2,260.3 L350.3,257.8 L360.3,256.5 L365.3,260.3 L369.1,265.3 L367.8,271.6 L362.8,275.3 L356.5,274.1 L350.3,277.8 L344.0,275.3 L339.0,271.6 L335.2,267.8"/>
<path d="M367.8,271.6 L374.1,274.1 L377.8,280.4 L372.8,286.6 L369.1,292.9 L365.3,289.1 L357.8,282.9 L356.5,276.6"/>
<path d="M377.8,280.4 L385.4,270.3 L389.1,270.3 L395.4,265.3 L402.9,262.8 L410.5,260.3 L418.0,255.3 L425.5,252.8 L433.0,254.0 L439.3,260.3 L436.8,265.3 L430.5,270.3 L426.8,275.3 L420.5,282.9 L424.2,285.4 L433.0,280.4 L443.1,276.6 L453.1,274.1 L460.0,271.6 L469.0,271.3 L473.0,266.0 L483.6,258.1 L491.5,255.4"/>
<path d="M369.1,292.9 L379.1,296.7 L390.4,295.4 L402.9,294.2 L414.2,292.9 L420.5,295.4"/>
<path d="M369.1,292.9 L365.3,295.4 L357.8,296.7 L345.2,302.9 L336.5,310.5 L331.4,318.0"/>
<path d="M311.4,257.8 L313.9,269.1 L320.2,275.3 L318.9,280.4 L312.6,281.6 L306.4,287.9 L307.6,295.4 L312.6,301.7 L307.6,307.9 L305.1,314.2 L303.9,320.0 L305.0,327.0"/>
<path d="M95.6,271.7 L102.1,274.1 L106.9,277.0 L108.1,281.2 L114.0,283.6 L120.0,287.7 L124.7,285.9 L123.5,281.8 L133.0,278.8 L141.3,281.2 L144.9,278.2 L156.8,275.8 L159.8,278.2 L160.9,282.4 L155.6,288.3 L148.5,290.7 L147.9,295.4 L147.3,298.4 L152.0,301.4 L160.9,306.1 L166.3,307.3 L178.2,315.6"/>
<path d="M160.9,306.1 L171.0,303.8 L185.3,300.2 L186.5,288.3 L188.9,281.2 L194.8,278.2 L200.7,277.0 L203.1,281.2 L199.6,287.1 L196.0,291.9 L205.5,295.4 L212.6,299.0 L218.6,301.4 L220.9,302.0 L230.4,300.2 L235.2,295.4 L244.7,285.9 L253.0,277.0 L266.1,274.1 L270.0,275.3"/>
<path d="M209.1,302.0 L206.7,309.7 L199.6,311.5 L193.6,319.2"/>
<path d="M206.7,310.9 L225.7,319.2"/>
<path d="M269.7,274.1 L264.9,284.8 L257.8,294.3 L260.2,302.6 L256.6,312.1 L257.8,319.2"/>
<path d="M95.6,290.7 L112.8,299.0 L124.7,302.6 L134.2,309.7 L139.0,319.2"/>
<path d="M95.4,255.0 L99.0,257.0 L100.0,259.0 L96.0,261.0"/>
<path d="M112.6,300.0 L125.1,302.5 L132.6,307.5 L137.6,317.6 L141.4,323.8 L138.9,328.8 L130.1,338.9 L123.8,343.9 L122.6,347.7 L127.6,350.2 L123.8,353.9 L115.1,352.7 L107.5,351.4 L108.8,355.2 L120.1,362.7 L123.8,365.2 L112.6,370.2 L110.0,375.2 L103.8,377.8 L100.0,375.2 L95.0,372.7"/>
<path d="M128.9,356.4 L135.1,353.9 L140.1,351.4 L145.2,355.2 L151.4,358.9 L160.2,362.7 L162.7,370.2 L165.2,375.2 L175.3,375.2 L185.3,372.7 L195.3,374.6 L205.4,376.5 L215.4,380.3 L226.7,384.0 L239.2,387.8 L251.8,392.8 L253.0,399.1 L249.3,402.8 L239.2,404.1 L226.7,407.9 L225.4,416.6 L227.9,421.6 L232.9,425.4 L238.0,431.7 L236.7,437.9 L239.2,450.0"/>
<path d="M226.7,384.0 L220.4,394.1 L212.9,402.8 L205.4,410.4 L199.1,412.9 L190.3,409.1 L182.8,410.4 L180.3,416.6 L177.8,421.6 L182.8,425.4 L187.8,431.7 L194.1,434.2 L201.6,431.7 L210.4,425.4 L217.9,426.7 L225.4,432.9 L232.9,437.9 L236.7,444.2"/>
<path d="M187.8,372.7 L186.5,365.2 L192.8,360.2 L196.6,352.7 L194.1,347.7 L197.8,341.4 L204.1,340.1 L211.6,341.4 L220.4,337.6 L227.9,335.1 L227.9,330.1 L227.9,321.3 L222.9,318.8 L215.4,315.0 L210.4,312.5 L207.9,307.5 L207.9,302.5 L212.9,300.0"/>
<path d="M195.3,337.6 L190.3,331.4 L182.8,328.8 L177.8,325.1 L177.8,320.1 L175.3,315.0 L172.8,310.0 L165.2,306.3 L148.9,300.0"/>
<path d="M195.3,337.6 L201.6,328.8 L197.8,322.6 L194.1,317.6 L199.1,310.0 L207.9,307.5"/>
<path d="M261.8,300.0 L260.5,307.5 L256.8,315.0 L258.0,325.1 L256.8,335.1 L254.3,343.9 L255.5,347.7 L258.0,352.7 L261.8,358.9 L265.6,364.0 L268.1,367.7 L274.3,374.0 L285.0,380.3"/>
<path d="M255.5,347.7 L263.0,345.1 L273.1,342.6 L285.0,337.6"/>
<path d="M241.7,367.7 L251.8,367.7 L261.8,366.5 L266.8,365.2"/>
<path d="M241.7,367.7 L245.5,370.2 L251.8,374.0 L244.2,377.8 L241.7,385.3 L249.3,390.3 L253.0,395.3 L250.5,400.3"/>
<path d="M239.2,420.4 L245.5,416.6 L258.0,414.1 L270.6,415.4 L285.0,420.4"/>
<path d="M95.0,436.7 L100.0,439.2 L105.0,443.0 L108.8,450.0"/>
<path d="M147.7,450.0 L153.9,440.5 L157.7,435.4 L164.0,434.2 L165.2,439.2 L170.2,443.0 L175.3,441.7 L180.3,445.5 L182.8,450.0"/>
<path d="M280.0,338.9 L292.5,337.0 L303.8,333.9 L311.4,330.1 L321.4,326.3 L331.4,323.8 L335.2,317.6 L340.2,313.8 L346.5,310.0 L355.2,301.3"/>
<path d="M330.2,341.4 L333.9,345.1 L345.2,347.7 L350.2,350.2 L355.2,347.7 L362.8,348.9 L370.3,346.4 L380.3,347.7 L387.9,341.4"/>
<path d="M350.2,350.2 L350.2,355.2 L344.0,358.9 L337.7,355.2 L332.7,360.2 L331.4,366.5 L326.4,370.2 L330.2,375.2 L340.2,377.8 L342.7,387.8 L337.7,392.8 L344.0,400.3 L342.7,410.4 L345.2,414.1 L352.7,414.1 L360.3,416.6 L367.8,419.1 L375.3,421.6 L380.3,420.4 L386.6,414.1 L390.4,406.6 L395.4,400.3 L399.1,396.6"/>
<path d="M357.8,348.9 L367.8,352.7 L372.8,358.9 L375.3,367.7 L379.1,371.5 L384.1,372.7 L389.1,371.5 L392.9,375.2 L387.9,377.8 L382.8,380.3 L380.3,386.5 L384.1,392.8 L389.1,395.3 L397.9,397.8"/>
<path d="M375.3,421.6 L375.3,425.4 L377.8,432.9 L380.3,439.2 L385.3,443.0 L384.1,450.0"/>
<path d="M280.0,377.8 L292.5,379.0 L305.1,379.0 L310.1,386.5 L321.4,390.3 L330.2,392.8 L336.4,397.8 L342.7,400.3"/>
<path d="M280.0,416.6 L287.5,420.4 L297.6,419.1 L305.1,416.6 L308.8,421.6 L310.1,426.7 L317.6,422.9 L327.7,419.1 L336.4,416.6 L342.7,414.1"/>
<path d="M308.8,426.7 L312.6,432.9 L315.1,440.5 L310.1,450.0"/>
<path d="M387.9,341.4 L392.9,336.4 L400.4,328.8 L406.7,323.8 L415.4,318.8 L424.2,315.0 L436.8,312.5 L445.5,307.5"/>
<path d="M95.0,442.5 L105.0,445.0 L112.6,455.0 L118.8,465.1 L123.8,471.4 L132.6,467.6 L141.4,466.3 L141.4,456.3 L147.7,448.8 L152.7,440.0"/>
<path d="M150.2,456.3 L155.2,452.5 L162.7,451.3 L170.2,450.0 L176.5,447.5 L175.3,442.5 L182.8,440.0"/>
<path d="M150.2,456.3 L152.7,463.8 L161.5,463.8 L166.5,467.6 L164.0,476.4 L166.5,483.9 L169.0,487.7 L165.2,492.7 L167.7,497.7 L175.3,498.9 L182.8,501.4 L190.3,502.7 L191.6,506.5 L187.8,510.2 L181.5,514.0 L175.3,512.7 L169.0,516.5 L161.5,520.3 L155.2,521.5 L147.7,520.3 L140.1,521.5 L133.9,520.3 L127.6,522.8 L120.1,525.3 L120.1,530.3 L123.8,535.3 L123.8,542.8 L115.1,542.8 L112.6,536.6 L107.5,537.8 L97.5,535.3"/>
<path d="M165.2,492.7 L175.3,487.7 L182.8,488.9 L190.3,491.4 L197.8,486.4 L204.1,481.4 L207.9,478.9 L215.4,485.1 L222.9,481.4 L230.4,477.6 L240.5,472.6 L251.8,470.1 L258.0,468.8 L265.6,467.6 L270.6,472.6 L270.6,480.1 L265.6,486.4 L273.1,490.2 L279.3,492.7 L283.1,496.4"/>
<path d="M182.8,514.0 L190.3,517.8 L199.1,520.3 L197.8,527.8 L200.3,532.8 L207.9,535.3 L215.4,537.8 L225.4,535.3 L232.9,536.6 L243.0,537.8 L248.0,539.1 L246.7,546.6 L248.0,556.6 L253.0,559.1 L258.0,552.9 L256.8,545.3 L258.0,542.8 L264.3,537.8 L274.3,535.3 L285.0,532.8"/>
<path d="M248.0,539.1 L253.0,534.1 L263.0,525.3 L270.6,517.8 L271.8,510.2 L278.1,502.7 L280.6,493.9 L283.1,487.7"/>
<path d="M229.2,569.2 L238.0,564.2 L251.8,560.4 L263.0,560.4 L265.6,565.4 L261.8,572.9 L258.0,579.2 L253.0,581.7 L245.5,586.7 L238.0,585.5 L230.4,583.0 L227.9,575.4 L229.2,569.2"/>
<path d="M240.5,472.6 L239.2,465.1 L240.5,457.6 L232.9,456.3 L239.2,452.5 L240.5,447.5 L239.2,440.0"/>
<path d="M280.0,535.3 L287.5,534.1 L296.3,531.5 L305.1,527.8 L312.6,525.3 L323.9,521.5 L336.4,519.0 L349.0,516.5 L357.8,511.5 L365.3,507.7 L375.3,498.9 L386.6,490.2 L395.4,482.6 L400.4,478.9 L400.4,470.1 L401.6,462.6 L409.2,456.3 L415.4,450.0 L421.7,445.0 L429.2,440.0"/>
<path d="M357.8,511.5 L359.0,502.7 L355.2,492.7 L347.7,488.9 L340.2,487.7"/>
<path d="M280.0,490.2 L287.5,485.1 L300.1,480.1 L311.4,481.4 L318.9,482.6 L321.4,486.4 L316.4,491.4 L316.4,493.9 L327.7,491.4 L333.9,491.4 L338.9,493.9 L340.2,487.7"/>
<path d="M340.2,487.7 L342.7,481.4 L346.5,472.6 L350.2,463.8 L355.2,456.3 L357.8,450.0 L362.8,445.0 L371.5,442.5 L380.3,440.0"/>
<path d="M384.1,440.0 L386.6,447.5 L390.4,452.5 L397.9,450.0 L402.9,453.8 L407.9,453.8"/>
<path d="M306.3,447.5 L307.6,453.8 L311.4,461.3 L312.6,470.1 L310.1,480.1"/>
<path d="M420.1,285.6 L428.1,279.2 L437.7,276.0 L447.3,274.4 L456.9,271.2 L469.8,268.0 L479.4,263.2 L485.8,260.0"/>
<path d="M420.1,285.6 L424.9,276.0 L428.1,269.6 L436.1,264.8 L439.3,260.0"/>
<path d="M380.0,308.1 L389.6,310.5 L400.8,309.7 L412.1,306.5 L416.9,298.5 L421.7,300.1 L432.9,303.3 L444.1,306.5 L445.7,309.7 L440.9,314.5 L431.3,314.5 L421.7,317.7 L415.3,322.5 L407.2,327.3 L399.2,335.3 L391.2,341.7 L396.0,346.6 L405.6,353.0 L412.1,362.6 L416.9,372.2 L421.7,378.6 L428.1,383.4 L432.9,388.2 L432.9,394.6 L428.1,399.4 L421.7,401.0 L432.9,401.0 L444.1,401.0 L447.3,407.5 L440.9,413.9 L434.5,420.3 L429.7,428.3 L424.9,436.3 L418.5,444.3 L410.5,452.3 L400.8,460.4 L397.6,468.4 L394.4,480.1"/>
<path d="M391.2,341.7 L380.0,346.6"/>
<path d="M380.0,388.2 L389.6,393.0 L399.2,396.2 L408.9,399.4 L416.9,401.0 L421.7,401.0"/>
<path d="M380.0,433.1 L386.4,447.5 L397.6,450.7 L407.2,452.3"/>
<path d="M428.0,482.6 L434.3,485.1 L435.5,490.2 L433.0,496.4 L430.5,505.2 L426.7,515.2 L420.5,522.8 L417.9,530.3 L417.3,535.3 L412.9,530.3 L409.2,526.5 L405.4,520.3 L404.8,512.7 L405.4,507.7 L411.7,498.9 L417.9,490.2 L423.0,485.1 L428.0,482.6"/>
<path d="M280.0,535.3 L287.5,534.1 L296.3,531.5 L305.1,527.8 L312.6,525.3 L323.9,521.5 L336.4,519.0 L349.0,516.5 L357.8,511.5 L365.3,507.7 L375.3,498.9 L386.6,490.2 L395.4,482.6 L400.4,478.9 L400.4,470.1 L401.6,462.6 L409.2,456.3 L415.4,450.0 L421.7,445.0 L429.2,440.0" stroke-width="3.6"/>
<path d="M447.3,407.5 L440.9,413.9 L434.5,420.3 L429.7,428.3 L424.9,436.3 L418.5,444.3 L410.5,452.3 L400.8,460.4 L397.6,468.4 L394.4,480.1" stroke-width="3.6"/>
<path d="M258.0,542.8 L264.3,537.8 L274.3,535.3 L285.0,532.8" stroke-width="3.6"/>
<path d="M448.0,493.9 L443.0,509.6" stroke-width="2.6"/>
<path d="M434.3,535.9 L423.0,548.9" stroke-width="2.6"/>
<path d="M404.8,575.4 L396.6,589.2" stroke-width="2.6"/>
<ellipse cx="457.3" cy="168.8" rx="3.0" ry="2.2" fill="#808080" stroke="none"/>
<circle cx="355.2" cy="550.4" r="1.3" fill="#808080" stroke="none"/>
<circle cx="428.0" cy="522.1" r="1.3" fill="#808080" stroke="none"/>
<circle cx="428.6" cy="530.7" r="1.3" fill="#808080" stroke="none"/>
<circle cx="396.6" cy="507.7" r="1.3" fill="#808080" stroke="none"/>
<circle cx="460.6" cy="475.1" r="1.3" fill="#808080" stroke="none"/>
<circle cx="435.5" cy="480.1" r="1.3" fill="#808080" stroke="none"/>
<circle cx="237" cy="545.6" r="1.3" fill="#808080" stroke="none"/>
<circle cx="269.4" cy="561.0" r="1.3" fill="#808080" stroke="none"/>
<circle cx="457.3" cy="168.8" r="1.3" fill="#808080" stroke="none"/>
</g>
<rect x="95.4" y="49.3" width="545.1" height="555.2" fill="none" stroke="#222" stroke-width="1.3"/>
<line x1="172.5" y1="604.5" x2="172.5" y2="613.5" stroke="#222" stroke-width="1.3"/>
<text x="172.5" y="646.9" font-size="27.5" text-anchor="middle" font-weight="normal" >105° E</text>
<line x1="404.6" y1="604.5" x2="404.6" y2="613.5" stroke="#222" stroke-width="1.3"/>
<text x="404.6" y="646.9" font-size="27.5" text-anchor="middle" font-weight="normal" >120° E</text>
<line x1="636.6" y1="604.5" x2="636.6" y2="613.5" stroke="#222" stroke-width="1.3"/>
<text x="636.6" y="646.9" font-size="27.5" text-anchor="middle" font-weight="normal" >135° E</text>
<line x1="86.9" y1="195.5" x2="95.4" y2="195.5" stroke="#222" stroke-width="1.3"/>
<text x="72.4" y="205.1" font-size="27.5" text-anchor="end" font-weight="normal" >45° N</text>
<line x1="86.9" y1="341.3" x2="95.4" y2="341.3" stroke="#222" stroke-width="1.3"/>
<text x="72.4" y="350.9" font-size="27.5" text-anchor="end" font-weight="normal" >35° N</text>
<line x1="86.9" y1="487.1" x2="95.4" y2="487.1" stroke="#222" stroke-width="1.3"/>
<text x="72.4" y="496.7" font-size="27.5" text-anchor="end" font-weight="normal" >25° N</text>
<text x="366.9" y="35.6" font-size="27.5" text-anchor="middle" font-weight="normal" >2013</text>
<g shape-rendering="crispEdges">
<rect x="839.31" y="432.43" width="19.74" height="7.69" fill="#fff7ec"/>
<rect x="858.65" y="432.43" width="19.74" height="7.69" fill="#fdd49e"/>
<rect x="877.99" y="432.43" width="19.74" height="7.69" fill="#fdbb84"/>
<rect x="897.34" y="432.43" width="77.77" height="7.69" fill="#fee8c8"/>
<rect x="974.70" y="432.43" width="19.74" height="7.69" fill="#fdd49e"/>
<rect x="994.04" y="432.43" width="39.08" height="7.69" fill="#fc8d59"/>
<rect x="1032.72" y="432.43" width="58.42" height="7.69" fill="#fdbb84"/>
<rect x="1090.75" y="432.43" width="19.74" height="7.69" fill="#fee8c8"/>
<rect x="1110.09" y="432.43" width="19.74" height="7.69" fill="#fdd49e"/>
<rect x="1129.43" y="432.43" width="19.74" height="7.69" fill="#fee8c8"/>
<rect x="1148.77" y="432.43" width="19.74" height="7.69" fill="#fff7ec"/>
<rect x="839.31" y="425.13" width="10.07" height="7.69" fill="#fff7ec"/>
<rect x="848.98" y="425.13" width="10.07" height="7.69" fill="#fee8c8"/>
<rect x="858.65" y="425.13" width="19.74" height="7.69" fill="#fdd49e"/>
<rect x="877.99" y="425.13" width="19.74" height="7.69" fill="#fdbb84"/>
<rect x="897.34" y="425.13" width="10.07" height="7.69" fill="#fdd49e"/>
<rect x="907.01" y="425.13" width="68.09" height="7.69" fill="#fee8c8"/>
<rect x="974.70" y="425.13" width="19.74" height="7.69" fill="#fdd49e"/>
<rect x="994.04" y="425.13" width="39.08" height="7.69" fill="#fc8d59"/>
<rect x="1032.72" y="425.13" width="58.42" height="7.69" fill="#fdbb84"/>
<rect x="1090.75" y="425.13" width="19.74" height="7.69" fill="#fee8c8"/>
<rect x="1110.09" y="425.13" width="19.74" height="7.69" fill="#fdd49e"/>
<rect x="1129.43" y="425.13" width="19.74" height="7.69" fill="#fee8c8"/>
<rect x="1148.77" y="425.13" width="19.74" height="7.69" fill="#fff7ec"/>
<rect x="839.31" y="417.85" width="10.07" height="7.69" fill="#fee8c8"/>
<rect x="848.98" y="417.85" width="10.07" height="7.69" fill="#fdd49e"/>
<rect x="858.65" y="417.85" width="19.74" height="7.69" fill="#fc8d59"/>
<rect x="877.99" y="417.85" width="19.74" height="7.69" fill="#ef6548"/>
<rect x="897.34" y="417.85" width="19.74" height="7.69" fill="#fdbb84"/>
<rect x="916.68" y="417.85" width="19.74" height="7.69" fill="#fdd49e"/>
<rect x="936.02" y="417.85" width="39.08" height="7.69" fill="#fee8c8"/>
<rect x="974.70" y="417.85" width="19.74" height="7.69" fill="#fdd49e"/>
<rect x="994.04" y="417.85" width="58.42" height="7.69" fill="#fc8d59"/>
<rect x="1052.07" y="417.85" width="39.08" height="7.69" fill="#fdbb84"/>
<rect x="1090.75" y="417.85" width="19.74" height="7.69" fill="#fdd49e"/>
<rect x="1110.09" y="417.85" width="19.74" height="7.69" fill="#fdbb84"/>
<rect x="1129.43" y="417.85" width="19.74" height="7.69" fill="#fdd49e"/>
<rect x="1148.77" y="417.85" width="19.74" height="7.69" fill="#fee8c8"/>
<rect x="839.31" y="410.56" width="19.74" height="7.69" fill="#fdd49e"/>
<rect x="858.65" y="410.56" width="19.74" height="7.69" fill="#fc8d59"/>
<rect x="877.99" y="410.56" width="19.74" height="7.69" fill="#ef6548"/>
<rect x="897.34" y="410.56" width="19.74" height="7.69" fill="#fdbb84"/>
<rect x="916.68" y="410.56" width="19.74" height="7.69" fill="#fdd49e"/>
<rect x="936.02" y="410.56" width="39.08" height="7.69" fill="#fee8c8"/>
<rect x="974.70" y="410.56" width="19.74" height="7.69" fill="#fdd49e"/>
<rect x="994.04" y="410.56" width="58.42" height="7.69" fill="#fc8d59"/>
<rect x="1052.07" y="410.56" width="39.08" height="7.69" fill="#fdbb84"/>
<rect x="1090.75" y="410.56" width="19.74" height="7.69" fill="#fdd49e"/>
<rect x="1110.09" y="410.56" width="19.74" height="7.69" fill="#fdbb84"/>
<rect x="1129.43" y="410.56" width="19.74" height="7.69" fill="#fdd49e"/>
<rect x="1148.77" y="410.56" width="19.74" height="7.69" fill="#fee8c8"/>
<rect x="839.31" y="403.27" width="19.74" height="7.69" fill="#fee8c8"/>
<rect x="858.65" y="403.27" width="19.74" height="7.69" fill="#fc8d59"/>
<rect x="877.99" y="403.27" width="39.08" height="7.69" fill="#fdbb84"/>
<rect x="916.68" y="403.27" width="19.74" height="7.69" fill="#fdd49e"/>
<rect x="936.02" y="403.27" width="39.08" height="7.69" fill="#fee8c8"/>
<rect x="974.70" y="403.27" width="19.74" height="7.69" fill="#fdd49e"/>
<rect x="994.04" y="403.27" width="39.08" height="7.69" fill="#ef6548"/>
<rect x="1032.72" y="403.27" width="19.74" height="7.69" fill="#fc8d59"/>
<rect x="1052.07" y="403.27" width="19.74" height="7.69" fill="#fdbb84"/>
<rect x="1071.41" y="403.27" width="39.08" height="7.69" fill="#fc8d59"/>
<rect x="1110.09" y="403.27" width="19.74" height="7.69" fill="#fdbb84"/>
<rect x="1129.43" y="403.27" width="19.74" height="7.69" fill="#fdd49e"/>
<rect x="1148.77" y="403.27" width="19.74" height="7.69" fill="#fee8c8"/>
<rect x="1168.11" y="403.27" width="19.74" height="7.69" fill="#fff7ec"/>
<rect x="839.31" y="395.98" width="19.74" height="7.69" fill="#fee8c8"/>
<rect x="858.65" y="395.98" width="10.07" height="7.69" fill="#fdbb84"/>
<rect x="868.32" y="395.98" width="10.07" height="7.69" fill="#fc8d59"/>
<rect x="877.99" y="395.98" width="39.08" height="7.69" fill="#fdbb84"/>
<rect x="916.68" y="395.98" width="19.74" height="7.69" fill="#fdd49e"/>
<rect x="936.02" y="395.98" width="39.08" height="7.69" fill="#fee8c8"/>
<rect x="974.70" y="395.98" width="19.74" height="7.69" fill="#fdd49e"/>
<rect x="994.04" y="395.98" width="39.08" height="7.69" fill="#ef6548"/>
<rect x="1032.72" y="395.98" width="19.74" height="7.69" fill="#fc8d59"/>
<rect x="1052.07" y="395.98" width="19.74" height="7.69" fill="#fdbb84"/>
<rect x="1071.41" y="395.98" width="39.08" height="7.69" fill="#fc8d59"/>
<rect x="1110.09" y="395.98" width="19.74" height="7.69" fill="#fdbb84"/>
<rect x="1129.43" y="395.98" width="19.74" height="7.69" fill="#fdd49e"/>
<rect x="1148.77" y="395.98" width="19.74" height="7.69" fill="#fee8c8"/>
<rect x="1168.11" y="395.98" width="19.74" height="7.69" fill="#fff7ec"/>
<rect x="839.31" y="330.37" width="77.76" height="7.69" fill="#fff7ec"/>
<rect x="916.68" y="330.37" width="39.08" height="7.69" fill="#fee8c8"/>
<rect x="955.36" y="330.37" width="39.08" height="7.69" fill="#fdd49e"/>
<rect x="994.04" y="330.37" width="19.74" height="7.69" fill="#fc8d59"/>
<rect x="1013.38" y="330.37" width="19.74" height="7.69" fill="#ef6548"/>
<rect x="1032.72" y="330.37" width="19.74" height="7.69" fill="#b30000"/>
<rect x="1052.07" y="330.37" width="19.74" height="7.69" fill="#d7301f"/>
<rect x="1071.41" y="330.37" width="39.08" height="7.69" fill="#ef6548"/>
<rect x="1110.09" y="330.37" width="19.74" height="7.69" fill="#fc8d59"/>
<rect x="1129.43" y="330.37" width="19.74" height="7.69" fill="#fdd49e"/>
<rect x="1148.77" y="330.37" width="19.74" height="7.69" fill="#fee8c8"/>
<rect x="1168.11" y="330.37" width="97.11" height="7.69" fill="#fff7ec"/>
<rect x="839.31" y="323.08" width="77.76" height="7.69" fill="#fff7ec"/>
<rect x="916.68" y="323.08" width="39.08" height="7.69" fill="#fee8c8"/>
<rect x="955.36" y="323.08" width="39.08" height="7.69" fill="#fdd49e"/>
<rect x="994.04" y="323.08" width="19.74" height="7.69" fill="#fc8d59"/>
<rect x="1013.38" y="323.08" width="19.74" height="7.69" fill="#ef6548"/>
<rect x="1032.72" y="323.08" width="19.74" height="7.69" fill="#b30000"/>
<rect x="1052.07" y="323.08" width="19.74" height="7.69" fill="#d7301f"/>
<rect x="1071.41" y="323.08" width="39.08" height="7.69" fill="#ef6548"/>
<rect x="1110.09" y="323.08" width="19.74" height="7.69" fill="#fc8d59"/>
<rect x="1129.43" y="323.08" width="19.74" height="7.69" fill="#fdd49e"/>
<rect x="1148.77" y="323.08" width="19.74" height="7.69" fill="#fee8c8"/>
<rect x="1168.11" y="323.08" width="97.11" height="7.69" fill="#fff7ec"/>
<rect x="839.31" y="315.79" width="97.11" height="7.69" fill="#fff7ec"/>
<rect x="936.02" y="315.79" width="39.08" height="7.69" fill="#fee8c8"/>
<rect x="974.70" y="315.79" width="39.08" height="7.69" fill="#fdd49e"/>
<rect x="1013.38" y="315.79" width="19.74" height="7.69" fill="#fc8d59"/>
<rect x="1032.72" y="315.79" width="39.08" height="7.69" fill="#d7301f"/>
<rect x="1071.41" y="315.79" width="39.08" height="7.69" fill="#ef6548"/>
<rect x="1110.09" y="315.79" width="19.74" height="7.69" fill="#fdbb84"/>
<rect x="1129.43" y="315.79" width="19.74" height="7.69" fill="#fdd49e"/>
<rect x="1148.77" y="315.79" width="19.74" height="7.69" fill="#fee8c8"/>
<rect x="1168.11" y="315.79" width="97.11" height="7.69" fill="#fff7ec"/>
<rect x="839.31" y="308.50" width="97.11" height="7.69" fill="#fff7ec"/>
<rect x="936.02" y="308.50" width="39.08" height="7.69" fill="#fee8c8"/>
<rect x="974.70" y="308.50" width="39.08" height="7.69" fill="#fdd49e"/>
<rect x="1013.38" y="308.50" width="19.74" height="7.69" fill="#fc8d59"/>
<rect x="1032.72" y="308.50" width="39.08" height="7.69" fill="#d7301f"/>
<rect x="1071.41" y="308.50" width="39.08" height="7.69" fill="#ef6548"/>
<rect x="1110.09" y="308.50" width="19.74" height="7.69" fill="#fdbb84"/>
<rect x="1129.43" y="308.50" width="19.74" height="7.69" fill="#fdd49e"/>
<rect x="1148.77" y="308.50" width="19.74" height="7.69" fill="#fee8c8"/>
<rect x="1168.11" y="308.50" width="97.11" height="7.69" fill="#fff7ec"/>
<rect x="848.98" y="388.69" width="10.07" height="7.69" fill="#fff7ec"/>
<rect x="858.65" y="388.69" width="19.74" height="7.69" fill="#fee8c8"/>
<rect x="877.99" y="388.69" width="19.74" height="7.69" fill="#fdd49e"/>
<rect x="897.34" y="388.69" width="39.08" height="7.69" fill="#fee8c8"/>
<rect x="936.02" y="388.69" width="39.08" height="7.69" fill="#fff7ec"/>
<rect x="974.70" y="388.69" width="10.07" height="7.69" fill="#fee8c8"/>
<rect x="984.37" y="388.69" width="10.07" height="7.69" fill="#fdd49e"/>
<rect x="994.04" y="388.69" width="116.45" height="7.69" fill="#ef6548"/>
<rect x="1110.09" y="388.69" width="19.74" height="7.69" fill="#fc8d59"/>
<rect x="1129.43" y="388.69" width="19.74" height="7.69" fill="#fdbb84"/>
<rect x="1148.77" y="388.69" width="19.74" height="7.69" fill="#fee8c8"/>
<rect x="1168.11" y="388.69" width="19.74" height="7.69" fill="#fff7ec"/>
<rect x="858.65" y="476.17" width="97.11" height="7.69" fill="#fff7ec"/>
<rect x="955.36" y="476.17" width="19.74" height="7.69" fill="#fee8c8"/>
<rect x="974.70" y="476.17" width="19.74" height="7.69" fill="#fdd49e"/>
<rect x="994.04" y="476.17" width="19.74" height="7.69" fill="#fdbb84"/>
<rect x="1013.38" y="476.17" width="19.74" height="7.69" fill="#fdd49e"/>
<rect x="1032.72" y="476.17" width="58.42" height="7.69" fill="#fee8c8"/>
<rect x="1090.75" y="476.17" width="19.74" height="7.69" fill="#fff7ec"/>
<rect x="858.65" y="468.88" width="97.11" height="7.69" fill="#fff7ec"/>
<rect x="955.36" y="468.88" width="19.74" height="7.69" fill="#fee8c8"/>
<rect x="974.70" y="468.88" width="19.74" height="7.69" fill="#fdd49e"/>
<rect x="994.04" y="468.88" width="19.74" height="7.69" fill="#fdbb84"/>
<rect x="1013.38" y="468.88" width="19.74" height="7.69" fill="#fdd49e"/>
<rect x="1032.72" y="468.88" width="58.42" height="7.69" fill="#fee8c8"/>
<rect x="1090.75" y="468.88" width="19.74" height="7.69" fill="#fff7ec"/>
<rect x="858.65" y="461.59" width="97.11" height="7.69" fill="#fff7ec"/>
<rect x="955.36" y="461.59" width="19.74" height="7.69" fill="#fee8c8"/>
<rect x="974.70" y="461.59" width="19.74" height="7.69" fill="#fdd49e"/>
<rect x="994.04" y="461.59" width="39.08" height="7.69" fill="#fdbb84"/>
<rect x="1032.72" y="461.59" width="39.08" height="7.69" fill="#fdd49e"/>
<rect x="1071.41" y="461.59" width="19.74" height="7.69" fill="#fee8c8"/>
<rect x="1090.75" y="461.59" width="39.08" height="7.69" fill="#fff7ec"/>
<rect x="858.65" y="454.30" width="97.11" height="7.69" fill="#fff7ec"/>
<rect x="955.36" y="454.30" width="19.74" height="7.69" fill="#fee8c8"/>
<rect x="974.70" y="454.30" width="19.74" height="7.69" fill="#fdd49e"/>
<rect x="994.04" y="454.30" width="39.08" height="7.69" fill="#fdbb84"/>
<rect x="1032.72" y="454.30" width="39.08" height="7.69" fill="#fdd49e"/>
<rect x="1071.41" y="454.30" width="19.74" height="7.69" fill="#fee8c8"/>
<rect x="1090.75" y="454.30" width="39.08" height="7.69" fill="#fff7ec"/>
<rect x="858.65" y="447.00" width="19.74" height="7.69" fill="#fff7ec"/>
<rect x="877.99" y="447.00" width="39.08" height="7.69" fill="#fee8c8"/>
<rect x="916.68" y="447.00" width="39.08" height="7.69" fill="#fff7ec"/>
<rect x="955.36" y="447.00" width="19.74" height="7.69" fill="#fee8c8"/>
<rect x="974.70" y="447.00" width="19.74" height="7.69" fill="#fdd49e"/>
<rect x="994.04" y="447.00" width="19.74" height="7.69" fill="#fc8d59"/>
<rect x="1013.38" y="447.00" width="19.74" height="7.69" fill="#fdbb84"/>
<rect x="1032.72" y="447.00" width="19.74" height="7.69" fill="#fdd49e"/>
<rect x="1052.07" y="447.00" width="19.74" height="7.69" fill="#fdbb84"/>
<rect x="1071.41" y="447.00" width="19.74" height="7.69" fill="#fdd49e"/>
<rect x="1090.75" y="447.00" width="58.42" height="7.69" fill="#fff7ec"/>
<rect x="858.65" y="439.72" width="19.74" height="7.69" fill="#fff7ec"/>
<rect x="877.99" y="439.72" width="39.08" height="7.69" fill="#fee8c8"/>
<rect x="916.68" y="439.72" width="39.08" height="7.69" fill="#fff7ec"/>
<rect x="955.36" y="439.72" width="19.74" height="7.69" fill="#fee8c8"/>
<rect x="974.70" y="439.72" width="19.74" height="7.69" fill="#fdd49e"/>
<rect x="994.04" y="439.72" width="19.74" height="7.69" fill="#fc8d59"/>
<rect x="1013.38" y="439.72" width="19.74" height="7.69" fill="#fdbb84"/>
<rect x="1032.72" y="439.72" width="19.74" height="7.69" fill="#fdd49e"/>
<rect x="1052.07" y="439.72" width="19.74" height="7.69" fill="#fdbb84"/>
<rect x="1071.41" y="439.72" width="19.74" height="7.69" fill="#fdd49e"/>
<rect x="1090.75" y="439.72" width="58.42" height="7.69" fill="#fff7ec"/>
<rect x="858.65" y="381.40" width="19.74" height="7.69" fill="#fee8c8"/>
<rect x="877.99" y="381.40" width="19.74" height="7.69" fill="#fdd49e"/>
<rect x="897.34" y="381.40" width="39.08" height="7.69" fill="#fee8c8"/>
<rect x="936.02" y="381.40" width="39.08" height="7.69" fill="#fff7ec"/>
<rect x="974.70" y="381.40" width="10.07" height="7.69" fill="#fee8c8"/>
<rect x="984.37" y="381.40" width="10.07" height="7.69" fill="#fdd49e"/>
<rect x="994.04" y="381.40" width="116.45" height="7.69" fill="#ef6548"/>
<rect x="1110.09" y="381.40" width="19.74" height="7.69" fill="#fc8d59"/>
<rect x="1129.43" y="381.40" width="19.74" height="7.69" fill="#fdbb84"/>
<rect x="1148.77" y="381.40" width="19.74" height="7.69" fill="#fee8c8"/>
<rect x="1168.11" y="381.40" width="19.74" height="7.69" fill="#fff7ec"/>
<rect x="858.65" y="344.95" width="58.42" height="7.69" fill="#fff7ec"/>
<rect x="916.68" y="344.95" width="19.74" height="7.69" fill="#fee8c8"/>
<rect x="936.02" y="344.95" width="39.08" height="7.69" fill="#fdd49e"/>
<rect x="974.70" y="344.95" width="19.74" height="7.69" fill="#fdbb84"/>
<rect x="994.04" y="344.95" width="19.74" height="7.69" fill="#ef6548"/>
<rect x="1013.38" y="344.95" width="19.74" height="7.69" fill="#d7301f"/>
<rect x="1032.72" y="344.95" width="19.74" height="7.69" fill="#b30000"/>
<rect x="1052.07" y="344.95" width="39.08" height="7.69" fill="#d7301f"/>
<rect x="1090.75" y="344.95" width="19.74" height="7.69" fill="#ef6548"/>
<rect x="1110.09" y="344.95" width="19.74" height="7.69" fill="#fc8d59"/>
<rect x="1129.43" y="344.95" width="19.74" height="7.69" fill="#fdd49e"/>
<rect x="1148.77" y="344.95" width="19.74" height="7.69" fill="#fee8c8"/>
<rect x="1168.11" y="344.95" width="58.42" height="7.69" fill="#fff7ec"/>
<rect x="858.65" y="337.66" width="58.42" height="7.69" fill="#fff7ec"/>
<rect x="916.68" y="337.66" width="19.74" height="7.69" fill="#fee8c8"/>
<rect x="936.02" y="337.66" width="39.08" height="7.69" fill="#fdd49e"/>
<rect x="974.70" y="337.66" width="19.74" height="7.69" fill="#fdbb84"/>
<rect x="994.04" y="337.66" width="19.74" height="7.69" fill="#ef6548"/>
<rect x="1013.38" y="337.66" width="19.74" height="7.69" fill="#d7301f"/>
<rect x="1032.72" y="337.66" width="19.74" height="7.69" fill="#b30000"/>
<rect x="1052.07" y="337.66" width="39.08" height="7.69" fill="#d7301f"/>
<rect x="1090.75" y="337.66" width="19.74" height="7.69" fill="#ef6548"/>
<rect x="1110.09" y="337.66" width="19.74" height="7.69" fill="#fc8d59"/>
<rect x="1129.43" y="337.66" width="19.74" height="7.69" fill="#fdd49e"/>
<rect x="1148.77" y="337.66" width="19.74" height="7.69" fill="#fee8c8"/>
<rect x="1168.11" y="337.66" width="58.42" height="7.69" fill="#fff7ec"/>
<rect x="877.99" y="549.07" width="77.76" height="7.69" fill="#fff7ec"/>
<rect x="877.99" y="541.77" width="77.76" height="7.69" fill="#fff7ec"/>
<rect x="877.99" y="534.49" width="97.11" height="7.69" fill="#fff7ec"/>
<rect x="877.99" y="527.20" width="97.11" height="7.69" fill="#fff7ec"/>
<rect x="877.99" y="374.11" width="58.42" height="7.69" fill="#fff7ec"/>
<rect x="936.02" y="374.11" width="39.08" height="7.69" fill="#fee8c8"/>
<rect x="974.70" y="374.11" width="19.74" height="7.69" fill="#fdd49e"/>
<rect x="994.04" y="374.11" width="39.08" height="7.69" fill="#ef6548"/>
<rect x="1032.72" y="374.11" width="19.74" height="7.69" fill="#d7301f"/>
<rect x="1052.07" y="374.11" width="58.42" height="7.69" fill="#ef6548"/>
<rect x="1110.09" y="374.11" width="39.08" height="7.69" fill="#fc8d59"/>
<rect x="1148.77" y="374.11" width="19.74" height="7.69" fill="#fdd49e"/>
<rect x="1168.11" y="374.11" width="39.08" height="7.69" fill="#fff7ec"/>
<rect x="877.99" y="366.82" width="58.42" height="7.69" fill="#fff7ec"/>
<rect x="936.02" y="366.82" width="39.08" height="7.69" fill="#fee8c8"/>
<rect x="974.70" y="366.82" width="19.74" height="7.69" fill="#fdd49e"/>
<rect x="994.04" y="366.82" width="39.08" height="7.69" fill="#ef6548"/>
<rect x="1032.72" y="366.82" width="19.74" height="7.69" fill="#d7301f"/>
<rect x="1052.07" y="366.82" width="58.42" height="7.69" fill="#ef6548"/>
<rect x="1110.09" y="366.82" width="39.08" height="7.69" fill="#fc8d59"/>
<rect x="1148.77" y="366.82" width="19.74" height="7.69" fill="#fdd49e"/>
<rect x="1168.11" y="366.82" width="39.08" height="7.69" fill="#fff7ec"/>
<rect x="877.99" y="359.53" width="58.42" height="7.69" fill="#fff7ec"/>
<rect x="936.02" y="359.53" width="19.74" height="7.69" fill="#fee8c8"/>
<rect x="955.36" y="359.53" width="19.74" height="7.69" fill="#fdd49e"/>
<rect x="974.70" y="359.53" width="19.74" height="7.69" fill="#fdbb84"/>
<rect x="994.04" y="359.53" width="39.08" height="7.69" fill="#ef6548"/>
<rect x="1032.72" y="359.53" width="39.08" height="7.69" fill="#d7301f"/>
<rect x="1071.41" y="359.53" width="39.08" height="7.69" fill="#ef6548"/>
<rect x="1110.09" y="359.53" width="19.74" height="7.69" fill="#fc8d59"/>
<rect x="1129.43" y="359.53" width="19.74" height="7.69" fill="#fdbb84"/>
<rect x="1148.77" y="359.53" width="19.74" height="7.69" fill="#fdd49e"/>
<rect x="1168.11" y="359.53" width="39.08" height="7.69" fill="#fff7ec"/>
<rect x="877.99" y="352.24" width="58.42" height="7.69" fill="#fff7ec"/>
<rect x="936.02" y="352.24" width="19.74" height="7.69" fill="#fee8c8"/>
<rect x="955.36" y="352.24" width="19.74" height="7.69" fill="#fdd49e"/>
<rect x="974.70" y="352.24" width="19.74" height="7.69" fill="#fdbb84"/>
<rect x="994.04" y="352.24" width="39.08" height="7.69" fill="#ef6548"/>
<rect x="1032.72" y="352.24" width="39.08" height="7.69" fill="#d7301f"/>
<rect x="1071.41" y="352.24" width="39.08" height="7.69" fill="#ef6548"/>
<rect x="1110.09" y="352.24" width="19.74" height="7.69" fill="#fc8d59"/>
<rect x="1129.43" y="352.24" width="19.74" height="7.69" fill="#fdbb84"/>
<rect x="1148.77" y="352.24" width="19.74" height="7.69" fill="#fdd49e"/>
<rect x="1168.11" y="352.24" width="39.08" height="7.69" fill="#fff7ec"/>
<rect x="877.99" y="301.21" width="77.76" height="7.69" fill="#fff7ec"/>
<rect x="955.36" y="301.21" width="19.74" height="7.69" fill="#fee8c8"/>
<rect x="974.70" y="301.21" width="39.08" height="7.69" fill="#fdd49e"/>
<rect x="1013.38" y="301.21" width="19.74" height="7.69" fill="#fc8d59"/>
<rect x="1032.72" y="301.21" width="19.74" height="7.69" fill="#ef6548"/>
<rect x="1052.07" y="301.21" width="19.74" height="7.69" fill="#d7301f"/>
<rect x="1071.41" y="301.21" width="19.74" height="7.69" fill="#ef6548"/>
<rect x="1090.75" y="301.21" width="19.74" height="7.69" fill="#fc8d59"/>
<rect x="1110.09" y="301.21" width="19.74" height="7.69" fill="#fdbb84"/>
<rect x="1129.43" y="301.21" width="19.74" height="7.69" fill="#fdd49e"/>
<rect x="1148.77" y="301.21" width="19.74" height="7.69" fill="#fee8c8"/>
<rect x="1168.11" y="301.21" width="39.08" height="7.69" fill="#fff7ec"/>
<rect x="1206.80" y="301.21" width="39.08" height="7.69" fill="#fee8c8"/>
<rect x="1245.48" y="301.21" width="19.74" height="7.69" fill="#fff7ec"/>
<rect x="877.99" y="293.92" width="77.76" height="7.69" fill="#fff7ec"/>
<rect x="955.36" y="293.92" width="19.74" height="7.69" fill="#fee8c8"/>
<rect x="974.70" y="293.92" width="39.08" height="7.69" fill="#fdd49e"/>
<rect x="1013.38" y="293.92" width="19.74" height="7.69" fill="#fc8d59"/>
<rect x="1032.72" y="293.92" width="19.74" height="7.69" fill="#ef6548"/>
<rect x="1052.07" y="293.92" width="19.74" height="7.69" fill="#d7301f"/>
<rect x="1071.41" y="293.92" width="19.74" height="7.69" fill="#ef6548"/>
<rect x="1090.75" y="293.92" width="19.74" height="7.69" fill="#fc8d59"/>
<rect x="1110.09" y="293.92" width="19.74" height="7.69" fill="#fdbb84"/>
<rect x="1129.43" y="293.92" width="19.74" height="7.69" fill="#fdd49e"/>
<rect x="1148.77" y="293.92" width="19.74" height="7.69" fill="#fee8c8"/>
<rect x="1168.11" y="293.92" width="39.08" height="7.69" fill="#fff7ec"/>
<rect x="1206.80" y="293.92" width="39.08" height="7.69" fill="#fee8c8"/>
<rect x="1245.48" y="293.92" width="19.74" height="7.69" fill="#fff7ec"/>
<rect x="897.34" y="563.64" width="19.74" height="7.69" fill="#fff7ec"/>
<rect x="897.34" y="556.36" width="19.74" height="7.69" fill="#fff7ec"/>
<rect x="897.34" y="519.90" width="155.13" height="7.69" fill="#fff7ec"/>
<rect x="897.34" y="512.62" width="155.13" height="7.69" fill="#fff7ec"/>
<rect x="897.34" y="286.62" width="58.42" height="7.69" fill="#fff7ec"/>
<rect x="955.36" y="286.62" width="39.08" height="7.69" fill="#fee8c8"/>
<rect x="994.04" y="286.62" width="19.74" height="7.69" fill="#fdd49e"/>
<rect x="1013.38" y="286.62" width="19.74" height="7.69" fill="#fdbb84"/>
<rect x="1032.72" y="286.62" width="19.74" height="7.69" fill="#fc8d59"/>
<rect x="1052.07" y="286.62" width="39.08" height="7.69" fill="#ef6548"/>
<rect x="1090.75" y="286.62" width="19.74" height="7.69" fill="#fdbb84"/>
<rect x="1110.09" y="286.62" width="39.08" height="7.69" fill="#fdd49e"/>
<rect x="1148.77" y="286.62" width="19.74" height="7.69" fill="#fee8c8"/>
<rect x="1168.11" y="286.62" width="19.74" height="7.69" fill="#fff7ec"/>
<rect x="1187.45" y="286.62" width="39.08" height="7.69" fill="#fee8c8"/>
<rect x="1226.14" y="286.62" width="39.08" height="7.69" fill="#fff7ec"/>
<rect x="897.34" y="279.34" width="58.42" height="7.69" fill="#fff7ec"/>
<rect x="955.36" y="279.34" width="39.08" height="7.69" fill="#fee8c8"/>
<rect x="994.04" y="279.34" width="19.74" height="7.69" fill="#fdd49e"/>
<rect x="1013.38" y="279.34" width="19.74" height="7.69" fill="#fdbb84"/>
<rect x="1032.72" y="279.34" width="19.74" height="7.69" fill="#fc8d59"/>
<rect x="1052.07" y="279.34" width="39.08" height="7.69" fill="#ef6548"/>
<rect x="1090.75" y="279.34" width="19.74" height="7.69" fill="#fdbb84"/>
<rect x="1110.09" y="279.34" width="39.08" height="7.69" fill="#fdd49e"/>
<rect x="1148.77" y="279.34" width="19.74" height="7.69" fill="#fee8c8"/>
<rect x="1168.11" y="279.34" width="19.74" height="7.69" fill="#fff7ec"/>
<rect x="1187.45" y="279.34" width="39.08" height="7.69" fill="#fee8c8"/>
<rect x="1226.14" y="279.34" width="39.08" height="7.69" fill="#fff7ec"/>
<rect x="916.68" y="505.33" width="19.74" height="7.69" fill="#fff7ec"/>
<rect x="936.02" y="505.33" width="19.74" height="7.69" fill="#fee8c8"/>
<rect x="955.36" y="505.33" width="135.79" height="7.69" fill="#fff7ec"/>
<rect x="916.68" y="498.04" width="19.74" height="7.69" fill="#fff7ec"/>
<rect x="936.02" y="498.04" width="19.74" height="7.69" fill="#fee8c8"/>
<rect x="955.36" y="498.04" width="135.79" height="7.69" fill="#fff7ec"/>
<rect x="916.68" y="490.75" width="39.08" height="7.69" fill="#fff7ec"/>
<rect x="955.36" y="490.75" width="58.42" height="7.69" fill="#fee8c8"/>
<rect x="1013.38" y="490.75" width="97.11" height="7.69" fill="#fff7ec"/>
<rect x="916.68" y="483.46" width="39.08" height="7.69" fill="#fff7ec"/>
<rect x="955.36" y="483.46" width="58.42" height="7.69" fill="#fee8c8"/>
<rect x="1013.38" y="483.46" width="97.11" height="7.69" fill="#fff7ec"/>
<rect x="936.02" y="272.05" width="58.42" height="7.69" fill="#fff7ec"/>
<rect x="994.04" y="272.05" width="39.08" height="7.69" fill="#fee8c8"/>
<rect x="1032.72" y="272.05" width="19.74" height="7.69" fill="#fdbb84"/>
<rect x="1052.07" y="272.05" width="19.74" height="7.69" fill="#fc8d59"/>
<rect x="1071.41" y="272.05" width="58.42" height="7.69" fill="#fdbb84"/>
<rect x="1129.43" y="272.05" width="19.74" height="7.69" fill="#fdd49e"/>
<rect x="1148.77" y="272.05" width="77.77" height="7.69" fill="#fee8c8"/>
<rect x="1226.14" y="272.05" width="39.08" height="7.69" fill="#fff7ec"/>
<rect x="936.02" y="264.75" width="58.42" height="7.69" fill="#fff7ec"/>
<rect x="994.04" y="264.75" width="39.08" height="7.69" fill="#fee8c8"/>
<rect x="1032.72" y="264.75" width="19.74" height="7.69" fill="#fdbb84"/>
<rect x="1052.07" y="264.75" width="19.74" height="7.69" fill="#fc8d59"/>
<rect x="1071.41" y="264.75" width="58.42" height="7.69" fill="#fdbb84"/>
<rect x="1129.43" y="264.75" width="19.74" height="7.69" fill="#fdd49e"/>
<rect x="1148.77" y="264.75" width="77.77" height="7.69" fill="#fee8c8"/>
<rect x="1226.14" y="264.75" width="39.08" height="7.69" fill="#fff7ec"/>
<rect x="936.02" y="257.47" width="97.11" height="7.69" fill="#fff7ec"/>
<rect x="1032.72" y="257.47" width="19.74" height="7.69" fill="#fee8c8"/>
<rect x="1052.07" y="257.47" width="39.08" height="7.69" fill="#fdd49e"/>
<rect x="1090.75" y="257.47" width="19.74" height="7.69" fill="#fdbb84"/>
<rect x="1110.09" y="257.47" width="39.08" height="7.69" fill="#fdd49e"/>
<rect x="1148.77" y="257.47" width="39.08" height="7.69" fill="#fee8c8"/>
<rect x="1187.45" y="257.47" width="58.42" height="7.69" fill="#fff7ec"/>
<rect x="936.02" y="250.18" width="97.11" height="7.69" fill="#fff7ec"/>
<rect x="1032.72" y="250.18" width="19.74" height="7.69" fill="#fee8c8"/>
<rect x="1052.07" y="250.18" width="39.08" height="7.69" fill="#fdd49e"/>
<rect x="1090.75" y="250.18" width="19.74" height="7.69" fill="#fdbb84"/>
<rect x="1110.09" y="250.18" width="39.08" height="7.69" fill="#fdd49e"/>
<rect x="1148.77" y="250.18" width="39.08" height="7.69" fill="#fee8c8"/>
<rect x="1187.45" y="250.18" width="58.42" height="7.69" fill="#fff7ec"/>
<rect x="955.36" y="242.89" width="116.45" height="7.69" fill="#fff7ec"/>
<rect x="1071.41" y="242.89" width="77.77" height="7.69" fill="#fee8c8"/>
<rect x="1148.77" y="242.89" width="39.08" height="7.69" fill="#fdd49e"/>
<rect x="1187.45" y="242.89" width="39.08" height="7.69" fill="#fee8c8"/>
<rect x="1226.14" y="242.89" width="39.08" height="7.69" fill="#fff7ec"/>
<rect x="955.36" y="235.60" width="116.45" height="7.69" fill="#fff7ec"/>
<rect x="1071.41" y="235.60" width="77.77" height="7.69" fill="#fee8c8"/>
<rect x="1148.77" y="235.60" width="39.08" height="7.69" fill="#fdd49e"/>
<rect x="1187.45" y="235.60" width="39.08" height="7.69" fill="#fee8c8"/>
<rect x="1226.14" y="235.60" width="39.08" height="7.69" fill="#fff7ec"/>
<rect x="1052.07" y="228.31" width="97.11" height="7.69" fill="#fff7ec"/>
<rect x="1148.77" y="228.31" width="77.77" height="7.69" fill="#fee8c8"/>
<rect x="1226.14" y="228.31" width="77.77" height="7.69" fill="#fff7ec"/>
<rect x="1052.07" y="221.02" width="97.11" height="7.69" fill="#fff7ec"/>
<rect x="1148.77" y="221.02" width="77.77" height="7.69" fill="#fee8c8"/>
<rect x="1226.14" y="221.02" width="77.77" height="7.69" fill="#fff7ec"/>
<rect x="1110.09" y="213.73" width="58.42" height="7.69" fill="#fff7ec"/>
<rect x="1168.11" y="213.73" width="77.77" height="7.69" fill="#fee8c8"/>
<rect x="1245.48" y="213.73" width="77.77" height="7.69" fill="#fff7ec"/>
<rect x="1110.09" y="206.44" width="58.42" height="7.69" fill="#fff7ec"/>
<rect x="1168.11" y="206.44" width="77.77" height="7.69" fill="#fee8c8"/>
<rect x="1245.48" y="206.44" width="77.77" height="7.69" fill="#fff7ec"/>
<rect x="1148.77" y="199.15" width="19.74" height="7.69" fill="#fff7ec"/>
<rect x="1168.11" y="199.15" width="77.77" height="7.69" fill="#fee8c8"/>
<rect x="1245.48" y="199.15" width="97.11" height="7.69" fill="#fff7ec"/>
<rect x="1148.77" y="191.86" width="19.74" height="7.69" fill="#fff7ec"/>
<rect x="1168.11" y="191.86" width="77.77" height="7.69" fill="#fee8c8"/>
<rect x="1245.48" y="191.86" width="97.11" height="7.69" fill="#fff7ec"/>
<rect x="1148.77" y="184.56" width="39.08" height="7.69" fill="#fff7ec"/>
<rect x="1187.45" y="184.56" width="58.42" height="7.69" fill="#fee8c8"/>
<rect x="1245.48" y="184.56" width="97.11" height="7.69" fill="#fff7ec"/>
<rect x="1148.77" y="177.28" width="39.08" height="7.69" fill="#fff7ec"/>
<rect x="1187.45" y="177.28" width="58.42" height="7.69" fill="#fee8c8"/>
<rect x="1245.48" y="177.28" width="97.11" height="7.69" fill="#fff7ec"/>
<rect x="1168.11" y="169.99" width="174.47" height="7.69" fill="#fff7ec"/>
<rect x="1168.11" y="162.69" width="174.47" height="7.69" fill="#fff7ec"/>
<rect x="1187.45" y="155.41" width="97.11" height="7.69" fill="#fff7ec"/>
<rect x="1187.45" y="148.12" width="97.11" height="7.69" fill="#fff7ec"/>
<rect x="1206.80" y="140.83" width="39.08" height="7.69" fill="#fff7ec"/>
<rect x="1206.80" y="133.54" width="39.08" height="7.69" fill="#fff7ec"/>
</g>
<circle cx="1066.9" cy="268.6" r="10.6" fill="#fc8d59" stroke="#000" stroke-width="2.9"/>
<circle cx="1096.0" cy="273.5" r="10.6" fill="#fc8d59" stroke="#000" stroke-width="2.9"/>
<circle cx="1040.2" cy="292.7" r="10.6" fill="#d7301f" stroke="#000" stroke-width="2.9"/>
<circle cx="1080.5" cy="316.9" r="10.6" fill="#fc8d59" stroke="#000" stroke-width="2.9"/>
<circle cx="1024.1" cy="344.7" r="10.6" fill="#d7301f" stroke="#000" stroke-width="2.9"/>
<circle cx="1108.3" cy="383.1" r="10.6" fill="#ef6548" stroke="#000" stroke-width="2.9"/>
<circle cx="1037.1" cy="406.0" r="10.6" fill="#d7301f" stroke="#000" stroke-width="2.9"/>
<circle cx="952.1" cy="352.8" r="10.6" fill="#ef6548" stroke="#000" stroke-width="2.9"/>
<circle cx="944.9" cy="402.9" r="10.6" fill="#fee8c8" stroke="#000" stroke-width="2.9"/>
<circle cx="929.3" cy="417.3" r="10.6" fill="#fdd49e" stroke="#000" stroke-width="2.9"/>
<circle cx="915.3" cy="419.7" r="10.6" fill="#fdd49e" stroke="#000" stroke-width="2.9"/>
<circle cx="899.7" cy="420.1" r="10.6" fill="#fdd49e" stroke="#000" stroke-width="2.9"/>
<circle cx="878.0" cy="405.3" r="10.6" fill="#fdbb84" stroke="#000" stroke-width="2.9"/>
<circle cx="1026.7" cy="529.9" r="10.6" fill="#fdd49e" stroke="#000" stroke-width="2.9"/>
<circle cx="1037.5" cy="532.0" r="10.6" fill="#ffffff" stroke="#000" stroke-width="2.9"/>
<circle cx="1013.6" cy="520.3" r="10.6" fill="#fee8c8" stroke="#000" stroke-width="2.9"/>
<circle cx="1020.7" cy="514.4" r="10.6" fill="#fff7ec" stroke="#000" stroke-width="2.9"/>
<circle cx="1037.8" cy="521.9" r="10.6" fill="#ffffff" stroke="#000" stroke-width="2.9"/>
<g transform="translate(720.0,0)" fill="none" stroke="#808080" stroke-width="2.4" stroke-linejoin="round" stroke-linecap="round">
<path d="M95.6,230.1 L106.9,228.7 L122.3,231.3 L127.1,235.4 L136.6,236.6 L150.8,241.4 L158.0,242.0 L166.3,241.4 L165.7,244.6 L172.2,245.5 L180.5,242.0 L194.8,236.6 L209.1,232.5 L220.9,231.3 L240.0,232.8 L247.9,229.6 L255.8,227.0 L262.7,220.7 L269.0,218.0 L277.0,215.9 L280.7,214.3 L280.1,211.2 L275.9,209.0 L272.2,205.3 L272.7,202.2 L274.8,199.0 L278.0,194.8 L282.2,193.5 L288.0,194.3 L290.7,196.4 L298.1,198.2 L306.0,199.5 L312.9,196.4 L318.1,192.7 L321.3,188.7 L334.4,189.3 L345.1,185.1 L346.9,180.9 L352.8,175.6 L364.1,175.0 L365.3,172.0 L370.0,173.8 L378.4,169.7 L387.9,169.1 L395.0,172.0 L400.9,172.0 L403.9,169.1 L399.8,161.9 L389.1,156.0 L382.5,151.2 L372.4,150.6 L364.1,156.6 L355.8,153.0 L345.1,153.6 L341.5,156.6 L335.6,152.4 L335.0,148.9 L339.8,147.1 L339.8,143.5 L348.7,131.0 L353.4,124.5 L359.4,126.9 L370.0,129.3 L381.9,122.7 L392.6,120.9 L395.0,118.0 L391.4,116.2 L393.8,113.2 L405.7,97.8 L415.8,93.0 L416.4,86.5 L415.2,84.1 L405.1,83.5 L405.1,81.1 L417.6,74.0 L429.5,72.8 L441.3,71.0 L455.0,70.3 L470.9,74.5 L479.4,77.0 L489.2,77.0 L497.7,81.9 L503.8,89.2 L507.5,95.3 L511.2,103.8 L514.8,110.0 L518.5,116.1 L520.9,123.4 L525.8,128.3 L538.0,128.3 L550.2,130.7 L558.8,136.8 L569.2,139.3 L569.8,145.4 L573.5,153.9 L584.4,155.7 L597.9,154.5 L605.2,150.2 L619.9,146.6 L638.2,144.8 L632.1,147.2 L629.6,151.5 L632.1,156.4 L624.7,160.0 L621.1,171.0 L617.4,180.8 L611.3,186.9 L606.4,194.2 L588.1,189.9 L575.9,196.7 L577.3,200.0 L579.3,218.5 L576.0,225.1 L566.7,229.0 L558.8,225.1 L556.2,230.4 L548.3,234.3 L543.0,238.3 L531.1,239.6 L532.4,246.2 L521.8,247.5 L513.9,243.6 L508.6,242.2 L504.7,247.5 L495.4,254.1 L491.5,255.4"/>
<path d="M429.5,74.6 L431.8,77.6 L422.9,84.1 L431.8,89.5 L437.8,85.3 L446.1,89.5 L448.5,95.4 L450.8,101.9 L455.0,103.8 L470.9,103.2 L479.4,101.4 L484.3,98.4 L491.6,103.2 L497.7,107.5 L494.1,113.6 L486.7,120.9 L484.3,128.3 L484.3,134.4 L479.4,134.4 L475.1,142.9 L473.3,150.2 L469.7,144.1 L462.3,147.8 L455.0,152.7 L443.7,157.2 L441.3,161.3 L448.5,166.7 L453.2,169.1 L455.0,175.9 L466.0,177.1 L468.4,184.4 L475.8,188.1 L490.4,188.1 L495.3,191.8 L508.7,193.0 L513.6,197.9 L519.2,201.3 L524.5,207.9 L532.4,204.0 L535.0,206.6 L543.0,215.8 L546.9,213.2 L556.2,210.6 L564.1,209.2 L566.7,213.2 L572.0,216.5 L579.3,218.5"/>
<path d="M429.5,183.9 L433.0,180.3 L439.0,182.7 L446.1,185.7 L451.8,181.3 L455.0,176.0"/>
<path d="M435.4,185.7 L440.2,197.6 L445.6,206.4 L454.4,203.9 L460.0,210.1 L463.1,217.2 L471.7,224.4 L479.6,223.1 L484.9,233.0 L488.8,238.3 L487.5,242.2 L492.8,250.8 L492.1,255.4"/>
<path d="M308.9,247.8 L313.9,241.5 L321.4,237.7 L325.2,240.2 L328.9,245.2 L335.2,242.7 L342.7,239.6 L350.3,237.7 L357.8,234.0 L365.3,231.4 L370.3,230.2 L375.3,234.0 L377.8,241.5 L380.4,245.2 L386.6,250.3 L392.9,245.2 L394.2,237.7 L397.9,234.0 L402.9,237.7 L406.7,242.7 L411.7,240.2 L418.0,235.2 L430.5,231.4 L440.0,227.7 L447.9,226.4 L459.8,223.8 L460.5,219.8 L457.2,216.5 L457.2,211.9 L453.2,204.0"/>
<path d="M386.6,250.3 L392.9,251.5 L387.9,257.8 L385.4,265.0 L380.0,275.0 L377.8,280.4"/>
<path d="M270.0,275.3 L277.5,270.3 L286.3,265.3 L295.1,263.4 L301.4,261.5 L307.6,262.2 L315.1,260.3 L311.4,257.8 L307.6,255.3 L308.9,247.8"/>
<path d="M335.2,267.8 L340.2,260.3 L350.3,257.8 L360.3,256.5 L365.3,260.3 L369.1,265.3 L367.8,271.6 L362.8,275.3 L356.5,274.1 L350.3,277.8 L344.0,275.3 L339.0,271.6 L335.2,267.8"/>
<path d="M367.8,271.6 L374.1,274.1 L377.8,280.4 L372.8,286.6 L369.1,292.9 L365.3,289.1 L357.8,282.9 L356.5,276.6"/>
<path d="M377.8,280.4 L385.4,270.3 L389.1,270.3 L395.4,265.3 L402.9,262.8 L410.5,260.3 L418.0,255.3 L425.5,252.8 L433.0,254.0 L439.3,260.3 L436.8,265.3 L430.5,270.3 L426.8,275.3 L420.5,282.9 L424.2,285.4 L433.0,280.4 L443.1,276.6 L453.1,274.1 L460.0,271.6 L469.0,271.3 L473.0,266.0 L483.6,258.1 L491.5,255.4"/>
<path d="M369.1,292.9 L379.1,296.7 L390.4,295.4 L402.9,294.2 L414.2,292.9 L420.5,295.4"/>
<path d="M369.1,292.9 L365.3,295.4 L357.8,296.7 L345.2,302.9 L336.5,310.5 L331.4,318.0"/>
<path d="M311.4,257.8 L313.9,269.1 L320.2,275.3 L318.9,280.4 L312.6,281.6 L306.4,287.9 L307.6,295.4 L312.6,301.7 L307.6,307.9 L305.1,314.2 L303.9,320.0 L305.0,327.0"/>
<path d="M95.6,271.7 L102.1,274.1 L106.9,277.0 L108.1,281.2 L114.0,283.6 L120.0,287.7 L124.7,285.9 L123.5,281.8 L133.0,278.8 L141.3,281.2 L144.9,278.2 L156.8,275.8 L159.8,278.2 L160.9,282.4 L155.6,288.3 L148.5,290.7 L147.9,295.4 L147.3,298.4 L152.0,301.4 L160.9,306.1 L166.3,307.3 L178.2,315.6"/>
<path d="M160.9,306.1 L171.0,303.8 L185.3,300.2 L186.5,288.3 L188.9,281.2 L194.8,278.2 L200.7,277.0 L203.1,281.2 L199.6,287.1 L196.0,291.9 L205.5,295.4 L212.6,299.0 L218.6,301.4 L220.9,302.0 L230.4,300.2 L235.2,295.4 L244.7,285.9 L253.0,277.0 L266.1,274.1 L270.0,275.3"/>
<path d="M209.1,302.0 L206.7,309.7 L199.6,311.5 L193.6,319.2"/>
<path d="M206.7,310.9 L225.7,319.2"/>
<path d="M269.7,274.1 L264.9,284.8 L257.8,294.3 L260.2,302.6 L256.6,312.1 L257.8,319.2"/>
<path d="M95.6,290.7 L112.8,299.0 L124.7,302.6 L134.2,309.7 L139.0,319.2"/>
<path d="M95.4,255.0 L99.0,257.0 L100.0,259.0 L96.0,261.0"/>
<path d="M112.6,300.0 L125.1,302.5 L132.6,307.5 L137.6,317.6 L141.4,323.8 L138.9,328.8 L130.1,338.9 L123.8,343.9 L122.6,347.7 L127.6,350.2 L123.8,353.9 L115.1,352.7 L107.5,351.4 L108.8,355.2 L120.1,362.7 L123.8,365.2 L112.6,370.2 L110.0,375.2 L103.8,377.8 L100.0,375.2 L95.0,372.7"/>
<path d="M128.9,356.4 L135.1,353.9 L140.1,351.4 L145.2,355.2 L151.4,358.9 L160.2,362.7 L162.7,370.2 L165.2,375.2 L175.3,375.2 L185.3,372.7 L195.3,374.6 L205.4,376.5 L215.4,380.3 L226.7,384.0 L239.2,387.8 L251.8,392.8 L253.0,399.1 L249.3,402.8 L239.2,404.1 L226.7,407.9 L225.4,416.6 L227.9,421.6 L232.9,425.4 L238.0,431.7 L236.7,437.9 L239.2,450.0"/>
<path d="M226.7,384.0 L220.4,394.1 L212.9,402.8 L205.4,410.4 L199.1,412.9 L190.3,409.1 L182.8,410.4 L180.3,416.6 L177.8,421.6 L182.8,425.4 L187.8,431.7 L194.1,434.2 L201.6,431.7 L210.4,425.4 L217.9,426.7 L225.4,432.9 L232.9,437.9 L236.7,444.2"/>
<path d="M187.8,372.7 L186.5,365.2 L192.8,360.2 L196.6,352.7 L194.1,347.7 L197.8,341.4 L204.1,340.1 L211.6,341.4 L220.4,337.6 L227.9,335.1 L227.9,330.1 L227.9,321.3 L222.9,318.8 L215.4,315.0 L210.4,312.5 L207.9,307.5 L207.9,302.5 L212.9,300.0"/>
<path d="M195.3,337.6 L190.3,331.4 L182.8,328.8 L177.8,325.1 L177.8,320.1 L175.3,315.0 L172.8,310.0 L165.2,306.3 L148.9,300.0"/>
<path d="M195.3,337.6 L201.6,328.8 L197.8,322.6 L194.1,317.6 L199.1,310.0 L207.9,307.5"/>
<path d="M261.8,300.0 L260.5,307.5 L256.8,315.0 L258.0,325.1 L256.8,335.1 L254.3,343.9 L255.5,347.7 L258.0,352.7 L261.8,358.9 L265.6,364.0 L268.1,367.7 L274.3,374.0 L285.0,380.3"/>
<path d="M255.5,347.7 L263.0,345.1 L273.1,342.6 L285.0,337.6"/>
<path d="M241.7,367.7 L251.8,367.7 L261.8,366.5 L266.8,365.2"/>
<path d="M241.7,367.7 L245.5,370.2 L251.8,374.0 L244.2,377.8 L241.7,385.3 L249.3,390.3 L253.0,395.3 L250.5,400.3"/>
<path d="M239.2,420.4 L245.5,416.6 L258.0,414.1 L270.6,415.4 L285.0,420.4"/>
<path d="M95.0,436.7 L100.0,439.2 L105.0,443.0 L108.8,450.0"/>
<path d="M147.7,450.0 L153.9,440.5 L157.7,435.4 L164.0,434.2 L165.2,439.2 L170.2,443.0 L175.3,441.7 L180.3,445.5 L182.8,450.0"/>
<path d="M280.0,338.9 L292.5,337.0 L303.8,333.9 L311.4,330.1 L321.4,326.3 L331.4,323.8 L335.2,317.6 L340.2,313.8 L346.5,310.0 L355.2,301.3"/>
<path d="M330.2,341.4 L333.9,345.1 L345.2,347.7 L350.2,350.2 L355.2,347.7 L362.8,348.9 L370.3,346.4 L380.3,347.7 L387.9,341.4"/>
<path d="M350.2,350.2 L350.2,355.2 L344.0,358.9 L337.7,355.2 L332.7,360.2 L331.4,366.5 L326.4,370.2 L330.2,375.2 L340.2,377.8 L342.7,387.8 L337.7,392.8 L344.0,400.3 L342.7,410.4 L345.2,414.1 L352.7,414.1 L360.3,416.6 L367.8,419.1 L375.3,421.6 L380.3,420.4 L386.6,414.1 L390.4,406.6 L395.4,400.3 L399.1,396.6"/>
<path d="M357.8,348.9 L367.8,352.7 L372.8,358.9 L375.3,367.7 L379.1,371.5 L384.1,372.7 L389.1,371.5 L392.9,375.2 L387.9,377.8 L382.8,380.3 L380.3,386.5 L384.1,392.8 L389.1,395.3 L397.9,397.8"/>
<path d="M375.3,421.6 L375.3,425.4 L377.8,432.9 L380.3,439.2 L385.3,443.0 L384.1,450.0"/>
<path d="M280.0,377.8 L292.5,379.0 L305.1,379.0 L310.1,386.5 L321.4,390.3 L330.2,392.8 L336.4,397.8 L342.7,400.3"/>
<path d="M280.0,416.6 L287.5,420.4 L297.6,419.1 L305.1,416.6 L308.8,421.6 L310.1,426.7 L317.6,422.9 L327.7,419.1 L336.4,416.6 L342.7,414.1"/>
<path d="M308.8,426.7 L312.6,432.9 L315.1,440.5 L310.1,450.0"/>
<path d="M387.9,341.4 L392.9,336.4 L400.4,328.8 L406.7,323.8 L415.4,318.8 L424.2,315.0 L436.8,312.5 L445.5,307.5"/>
<path d="M95.0,442.5 L105.0,445.0 L112.6,455.0 L118.8,465.1 L123.8,471.4 L132.6,467.6 L141.4,466.3 L141.4,456.3 L147.7,448.8 L152.7,440.0"/>
<path d="M150.2,456.3 L155.2,452.5 L162.7,451.3 L170.2,450.0 L176.5,447.5 L175.3,442.5 L182.8,440.0"/>
<path d="M150.2,456.3 L152.7,463.8 L161.5,463.8 L166.5,467.6 L164.0,476.4 L166.5,483.9 L169.0,487.7 L165.2,492.7 L167.7,497.7 L175.3,498.9 L182.8,501.4 L190.3,502.7 L191.6,506.5 L187.8,510.2 L181.5,514.0 L175.3,512.7 L169.0,516.5 L161.5,520.3 L155.2,521.5 L147.7,520.3 L140.1,521.5 L133.9,520.3 L127.6,522.8 L120.1,525.3 L120.1,530.3 L123.8,535.3 L123.8,542.8 L115.1,542.8 L112.6,536.6 L107.5,537.8 L97.5,535.3"/>
<path d="M165.2,492.7 L175.3,487.7 L182.8,488.9 L190.3,491.4 L197.8,486.4 L204.1,481.4 L207.9,478.9 L215.4,485.1 L222.9,481.4 L230.4,477.6 L240.5,472.6 L251.8,470.1 L258.0,468.8 L265.6,467.6 L270.6,472.6 L270.6,480.1 L265.6,486.4 L273.1,490.2 L279.3,492.7 L283.1,496.4"/>
<path d="M182.8,514.0 L190.3,517.8 L199.1,520.3 L197.8,527.8 L200.3,532.8 L207.9,535.3 L215.4,537.8 L225.4,535.3 L232.9,536.6 L243.0,537.8 L248.0,539.1 L246.7,546.6 L248.0,556.6 L253.0,559.1 L258.0,552.9 L256.8,545.3 L258.0,542.8 L264.3,537.8 L274.3,535.3 L285.0,532.8"/>
<path d="M248.0,539.1 L253.0,534.1 L263.0,525.3 L270.6,517.8 L271.8,510.2 L278.1,502.7 L280.6,493.9 L283.1,487.7"/>
<path d="M229.2,569.2 L238.0,564.2 L251.8,560.4 L263.0,560.4 L265.6,565.4 L261.8,572.9 L258.0,579.2 L253.0,581.7 L245.5,586.7 L238.0,585.5 L230.4,583.0 L227.9,575.4 L229.2,569.2"/>
<path d="M240.5,472.6 L239.2,465.1 L240.5,457.6 L232.9,456.3 L239.2,452.5 L240.5,447.5 L239.2,440.0"/>
<path d="M280.0,535.3 L287.5,534.1 L296.3,531.5 L305.1,527.8 L312.6,525.3 L323.9,521.5 L336.4,519.0 L349.0,516.5 L357.8,511.5 L365.3,507.7 L375.3,498.9 L386.6,490.2 L395.4,482.6 L400.4,478.9 L400.4,470.1 L401.6,462.6 L409.2,456.3 L415.4,450.0 L421.7,445.0 L429.2,440.0"/>
<path d="M357.8,511.5 L359.0,502.7 L355.2,492.7 L347.7,488.9 L340.2,487.7"/>
<path d="M280.0,490.2 L287.5,485.1 L300.1,480.1 L311.4,481.4 L318.9,482.6 L321.4,486.4 L316.4,491.4 L316.4,493.9 L327.7,491.4 L333.9,491.4 L338.9,493.9 L340.2,487.7"/>
<path d="M340.2,487.7 L342.7,481.4 L346.5,472.6 L350.2,463.8 L355.2,456.3 L357.8,450.0 L362.8,445.0 L371.5,442.5 L380.3,440.0"/>
<path d="M384.1,440.0 L386.6,447.5 L390.4,452.5 L397.9,450.0 L402.9,453.8 L407.9,453.8"/>
<path d="M306.3,447.5 L307.6,453.8 L311.4,461.3 L312.6,470.1 L310.1,480.1"/>
<path d="M420.1,285.6 L428.1,279.2 L437.7,276.0 L447.3,274.4 L456.9,271.2 L469.8,268.0 L479.4,263.2 L485.8,260.0"/>
<path d="M420.1,285.6 L424.9,276.0 L428.1,269.6 L436.1,264.8 L439.3,260.0"/>
<path d="M380.0,308.1 L389.6,310.5 L400.8,309.7 L412.1,306.5 L416.9,298.5 L421.7,300.1 L432.9,303.3 L444.1,306.5 L445.7,309.7 L440.9,314.5 L431.3,314.5 L421.7,317.7 L415.3,322.5 L407.2,327.3 L399.2,335.3 L391.2,341.7 L396.0,346.6 L405.6,353.0 L412.1,362.6 L416.9,372.2 L421.7,378.6 L428.1,383.4 L432.9,388.2 L432.9,394.6 L428.1,399.4 L421.7,401.0 L432.9,401.0 L444.1,401.0 L447.3,407.5 L440.9,413.9 L434.5,420.3 L429.7,428.3 L424.9,436.3 L418.5,444.3 L410.5,452.3 L400.8,460.4 L397.6,468.4 L394.4,480.1"/>
<path d="M391.2,341.7 L380.0,346.6"/>
<path d="M380.0,388.2 L389.6,393.0 L399.2,396.2 L408.9,399.4 L416.9,401.0 L421.7,401.0"/>
<path d="M380.0,433.1 L386.4,447.5 L397.6,450.7 L407.2,452.3"/>
<path d="M428.0,482.6 L434.3,485.1 L435.5,490.2 L433.0,496.4 L430.5,505.2 L426.7,515.2 L420.5,522.8 L417.9,530.3 L417.3,535.3 L412.9,530.3 L409.2,526.5 L405.4,520.3 L404.8,512.7 L405.4,507.7 L411.7,498.9 L417.9,490.2 L423.0,485.1 L428.0,482.6"/>
<path d="M280.0,535.3 L287.5,534.1 L296.3,531.5 L305.1,527.8 L312.6,525.3 L323.9,521.5 L336.4,519.0 L349.0,516.5 L357.8,511.5 L365.3,507.7 L375.3,498.9 L386.6,490.2 L395.4,482.6 L400.4,478.9 L400.4,470.1 L401.6,462.6 L409.2,456.3 L415.4,450.0 L421.7,445.0 L429.2,440.0" stroke-width="3.6"/>
<path d="M447.3,407.5 L440.9,413.9 L434.5,420.3 L429.7,428.3 L424.9,436.3 L418.5,444.3 L410.5,452.3 L400.8,460.4 L397.6,468.4 L394.4,480.1" stroke-width="3.6"/>
<path d="M258.0,542.8 L264.3,537.8 L274.3,535.3 L285.0,532.8" stroke-width="3.6"/>
<path d="M448.0,493.9 L443.0,509.6" stroke-width="2.6"/>
<path d="M434.3,535.9 L423.0,548.9" stroke-width="2.6"/>
<path d="M404.8,575.4 L396.6,589.2" stroke-width="2.6"/>
<ellipse cx="457.3" cy="168.8" rx="3.0" ry="2.2" fill="#808080" stroke="none"/>
<circle cx="355.2" cy="550.4" r="1.3" fill="#808080" stroke="none"/>
<circle cx="428.0" cy="522.1" r="1.3" fill="#808080" stroke="none"/>
<circle cx="428.6" cy="530.7" r="1.3" fill="#808080" stroke="none"/>
<circle cx="396.6" cy="507.7" r="1.3" fill="#808080" stroke="none"/>
<circle cx="460.6" cy="475.1" r="1.3" fill="#808080" stroke="none"/>
<circle cx="435.5" cy="480.1" r="1.3" fill="#808080" stroke="none"/>
<circle cx="237" cy="545.6" r="1.3" fill="#808080" stroke="none"/>
<circle cx="269.4" cy="561.0" r="1.3" fill="#808080" stroke="none"/>
<circle cx="457.3" cy="168.8" r="1.3" fill="#808080" stroke="none"/>
</g>
<rect x="815.4" y="49.3" width="545.1" height="555.2" fill="none" stroke="#222" stroke-width="1.3"/>
<line x1="892.5" y1="604.5" x2="892.5" y2="613.5" stroke="#222" stroke-width="1.3"/>
<text x="892.5" y="646.9" font-size="27.5" text-anchor="middle" font-weight="normal" >105° E</text>
<line x1="1124.5" y1="604.5" x2="1124.5" y2="613.5" stroke="#222" stroke-width="1.3"/>
<text x="1124.5" y="646.9" font-size="27.5" text-anchor="middle" font-weight="normal" >120° E</text>
<line x1="1356.6" y1="604.5" x2="1356.6" y2="613.5" stroke="#222" stroke-width="1.3"/>
<text x="1356.6" y="646.9" font-size="27.5" text-anchor="middle" font-weight="normal" >135° E</text>
<line x1="806.9" y1="195.5" x2="815.4" y2="195.5" stroke="#222" stroke-width="1.3"/>
<text x="792.4" y="205.1" font-size="27.5" text-anchor="end" font-weight="normal" >45° N</text>
<line x1="806.9" y1="341.3" x2="815.4" y2="341.3" stroke="#222" stroke-width="1.3"/>
<text x="792.4" y="350.9" font-size="27.5" text-anchor="end" font-weight="normal" >35° N</text>
<line x1="806.9" y1="487.1" x2="815.4" y2="487.1" stroke="#222" stroke-width="1.3"/>
<text x="792.4" y="496.7" font-size="27.5" text-anchor="end" font-weight="normal" >25° N</text>
<text x="1087.0" y="35.6" font-size="27.5" text-anchor="middle" font-weight="normal" >2015</text>
<text x="412.7" y="584.8" font-size="27.5" text-anchor="start" font-weight="normal" >Annual mean</text>
<text x="163.8" y="235.4" font-size="27.5" text-anchor="start" font-weight="normal" >North China Plain</text>
<g fill="none" stroke="#000" stroke-width="5.4">
<path d="M308.2,253.2 L385.1,253.2" stroke-dasharray="8.5 5.8 19.5 5.8 10.5 5.8 19.5 5.8"/>
<path d="M385.1,253.2 L385.1,341.4" stroke-dasharray="8.5 5.8 19.5 5.8 10.5 5.8 19.5 5.8"/>
<path d="M385.1,341.4 L308.2,341.4" stroke-dasharray="8.5 5.8 19.5 5.8 10.5 5.8 19.5 5.8"/>
<path d="M308.2,341.4 L308.2,253.2" stroke-dasharray="8.5 5.8 19.5 5.8 10.5 5.8 19.5 5.8"/>
</g>
<path d="M305.5,261.2 L305.5,250.5 L316.2,250.5 L316.2,255.89999999999998 L310.9,255.89999999999998 L310.9,261.2 Z" fill="#000"/>
<path d="M387.8,261.2 L387.8,250.5 L377.1,250.5 L377.1,255.89999999999998 L382.40000000000003,255.89999999999998 L382.40000000000003,261.2 Z" fill="#000"/>
<path d="M387.8,333.4 L387.8,344.09999999999997 L377.1,344.09999999999997 L377.1,338.7 L382.40000000000003,338.7 L382.40000000000003,333.4 Z" fill="#000"/>
<path d="M305.5,333.4 L305.5,344.09999999999997 L316.2,344.09999999999997 L316.2,338.7 L310.9,338.7 L310.9,333.4 Z" fill="#000"/>
<text x="955.6" y="585.0" font-size="27" text-anchor="start" font-weight="normal" >Winter and summer mean</text>
<text x="0.0" y="22.5" font-size="32" text-anchor="start" font-weight="bold" >a</text>
<text x="724.7" y="24.0" font-size="32" text-anchor="start" font-weight="bold" >b</text>
<text x="0.0" y="729.5" font-size="32" text-anchor="start" font-weight="bold" >c</text>
<text x="727.6" y="733.5" font-size="32" text-anchor="start" font-weight="bold" >d</text>
<rect x="1377" y="548.81" width="43.4" height="55.79" fill="#ffffff"/>
<rect x="1377" y="493.32" width="43.4" height="55.79" fill="#fff7ec"/>
<rect x="1377" y="437.83" width="43.4" height="55.79" fill="#fee8c8"/>
<rect x="1377" y="382.34" width="43.4" height="55.79" fill="#fdd49e"/>
<rect x="1377" y="326.85" width="43.4" height="55.79" fill="#fdbb84"/>
<rect x="1377" y="271.36" width="43.4" height="55.79" fill="#fc8d59"/>
<rect x="1377" y="215.87" width="43.4" height="55.79" fill="#ef6548"/>
<rect x="1377" y="160.38" width="43.4" height="55.79" fill="#d7301f"/>
<rect x="1377" y="104.89" width="43.4" height="55.79" fill="#b30000"/>
<rect x="1377" y="49.40" width="43.4" height="55.79" fill="#7f0000"/>
<rect x="1377" y="49.4" width="43.4" height="554.9" fill="none" stroke="#444" stroke-width="1.2"/>
<text x="1434.0" y="613.7" font-size="27.5" text-anchor="start" font-weight="normal" >0</text>
<line x1="1414.4" y1="493.3" x2="1420.4" y2="493.3" stroke="#222" stroke-width="1.2"/>
<text x="1434.0" y="502.7" font-size="27.5" text-anchor="start" font-weight="normal" >5</text>
<line x1="1414.4" y1="382.3" x2="1420.4" y2="382.3" stroke="#222" stroke-width="1.2"/>
<text x="1434.0" y="391.7" font-size="27.5" text-anchor="start" font-weight="normal" >10</text>
<line x1="1414.4" y1="271.4" x2="1420.4" y2="271.4" stroke="#222" stroke-width="1.2"/>
<text x="1434.0" y="280.8" font-size="27.5" text-anchor="start" font-weight="normal" >15</text>
<line x1="1414.4" y1="160.4" x2="1420.4" y2="160.4" stroke="#222" stroke-width="1.2"/>
<text x="1434.0" y="169.8" font-size="27.5" text-anchor="start" font-weight="normal" >20</text>
<text x="1434.0" y="58.8" font-size="27.5" text-anchor="start" font-weight="normal" >25</text>
<text transform="translate(1489,116) rotate(90)" font-size="26.8">PM<tspan font-size="18.5" dy="7">2.5</tspan><tspan dy="-7"> nitrate concentration (µg m</tspan><tspan font-size="19" dy="-12">−3</tspan><tspan dy="12">)</tspan></text>
<rect x="97.9" y="726.4" width="544.7" height="555.2" fill="none" stroke="#555" stroke-width="1.3"/>
<line x1="97.9" y1="1281.6" x2="97.9" y2="1290.6" stroke="#333" stroke-width="1.2"/>
<line x1="89.4" y1="1281.6" x2="97.9" y2="1281.6" stroke="#333" stroke-width="1.2"/>
<text x="97.9" y="1323.8" font-size="27.5" text-anchor="middle" font-weight="normal" >0</text>
<text x="75.9" y="1291.0" font-size="27.5" text-anchor="end" font-weight="normal" >0</text>
<line x1="302.2" y1="1281.6" x2="302.2" y2="1290.6" stroke="#333" stroke-width="1.2"/>
<line x1="89.4" y1="1073.4" x2="97.9" y2="1073.4" stroke="#333" stroke-width="1.2"/>
<text x="302.2" y="1323.8" font-size="27.5" text-anchor="middle" font-weight="normal" >15</text>
<text x="75.9" y="1082.8" font-size="27.5" text-anchor="end" font-weight="normal" >15</text>
<line x1="506.4" y1="1281.6" x2="506.4" y2="1290.6" stroke="#333" stroke-width="1.2"/>
<line x1="89.4" y1="865.2" x2="97.9" y2="865.2" stroke="#333" stroke-width="1.2"/>
<text x="506.4" y="1323.8" font-size="27.5" text-anchor="middle" font-weight="normal" >30</text>
<text x="75.9" y="874.6" font-size="27.5" text-anchor="end" font-weight="normal" >30</text>
<text x="370.2" y="1365.0" font-size="27.5" text-anchor="middle" font-weight="normal" >Observations (µg m<tspan font-size="19" dy="-12">−3</tspan><tspan dy="12">)</tspan></text>
<text transform="translate(25.0,1004.0) rotate(-90)" font-size="27.5" text-anchor="middle">Model (µg m<tspan font-size="19" dy="-12">−3</tspan><tspan dy="12">)</tspan></text>
<rect x="820.5" y="726.4" width="544.7" height="555.2" fill="none" stroke="#555" stroke-width="1.3"/>
<line x1="820.5" y1="1281.6" x2="820.5" y2="1290.6" stroke="#333" stroke-width="1.2"/>
<line x1="812.0" y1="1281.6" x2="820.5" y2="1281.6" stroke="#333" stroke-width="1.2"/>
<text x="820.5" y="1323.8" font-size="27.5" text-anchor="middle" font-weight="normal" >0</text>
<text x="798.5" y="1291.0" font-size="27.5" text-anchor="end" font-weight="normal" >0</text>
<line x1="1024.8" y1="1281.6" x2="1024.8" y2="1290.6" stroke="#333" stroke-width="1.2"/>
<line x1="812.0" y1="1073.4" x2="820.5" y2="1073.4" stroke="#333" stroke-width="1.2"/>
<text x="1024.8" y="1323.8" font-size="27.5" text-anchor="middle" font-weight="normal" >15</text>
<text x="798.5" y="1082.8" font-size="27.5" text-anchor="end" font-weight="normal" >15</text>
<line x1="1229.0" y1="1281.6" x2="1229.0" y2="1290.6" stroke="#333" stroke-width="1.2"/>
<line x1="812.0" y1="865.2" x2="820.5" y2="865.2" stroke="#333" stroke-width="1.2"/>
<text x="1229.0" y="1323.8" font-size="27.5" text-anchor="middle" font-weight="normal" >30</text>
<text x="798.5" y="874.6" font-size="27.5" text-anchor="end" font-weight="normal" >30</text>
<text x="1092.8" y="1365.0" font-size="27.5" text-anchor="middle" font-weight="normal" >Observations (µg m<tspan font-size="19" dy="-12">−3</tspan><tspan dy="12">)</tspan></text>
<text transform="translate(747.6,1004.0) rotate(-90)" font-size="27.5" text-anchor="middle">Model (µg m<tspan font-size="19" dy="-12">−3</tspan><tspan dy="12">)</tspan></text>
<clipPath id="cc"><rect x="85.9" y="726.4" width="556.7" height="569.2"/></clipPath>
<clipPath id="cd"><rect x="808.5" y="726.4" width="556.7" height="569.2"/></clipPath>
<g clip-path="url(#cc)">
<circle cx="570.2" cy="767.0" r="9.2" fill="#1c1cff" stroke="#0000ff" stroke-width="1.2"/>
<circle cx="392.7" cy="843.9" r="9.2" fill="#1c1cff" stroke="#0000ff" stroke-width="1.2"/>
<circle cx="367.4" cy="864.6" r="9.2" fill="#1c1cff" stroke="#0000ff" stroke-width="1.2"/>
<circle cx="440.5" cy="862.9" r="9.2" fill="#1c1cff" stroke="#0000ff" stroke-width="1.2"/>
<circle cx="538.1" cy="893.1" r="9.2" fill="#1c1cff" stroke="#0000ff" stroke-width="1.2"/>
<circle cx="475.5" cy="952.3" r="9.2" fill="#1c1cff" stroke="#0000ff" stroke-width="1.2"/>
<circle cx="503.8" cy="966.0" r="9.2" fill="#1c1cff" stroke="#0000ff" stroke-width="1.2"/>
<circle cx="188.5" cy="980.8" r="9.2" fill="#1c1cff" stroke="#0000ff" stroke-width="1.2"/>
<circle cx="236.1" cy="957.8" r="9.2" fill="#1c1cff" stroke="#0000ff" stroke-width="1.2"/>
<circle cx="299.6" cy="946.7" r="9.2" fill="#1c1cff" stroke="#0000ff" stroke-width="1.2"/>
<circle cx="230.2" cy="1031.5" r="9.2" fill="#1c1cff" stroke="#0000ff" stroke-width="1.2"/>
<circle cx="223.1" cy="1049.7" r="9.2" fill="#1c1cff" stroke="#0000ff" stroke-width="1.2"/>
<circle cx="204.4" cy="1054.5" r="9.2" fill="#1c1cff" stroke="#0000ff" stroke-width="1.2"/>
<circle cx="221.6" cy="1085.5" r="9.2" fill="#1c1cff" stroke="#0000ff" stroke-width="1.2"/>
<circle cx="256.6" cy="1080.3" r="9.2" fill="#1c1cff" stroke="#0000ff" stroke-width="1.2"/>
<circle cx="185.0" cy="1125.1" r="9.2" fill="#1c1cff" stroke="#0000ff" stroke-width="1.2"/>
<circle cx="190.6" cy="1123.8" r="9.2" fill="#1c1cff" stroke="#0000ff" stroke-width="1.2"/>
<circle cx="256.6" cy="1128.2" r="9.2" fill="#1c1cff" stroke="#0000ff" stroke-width="1.2"/>
<circle cx="261.4" cy="1146.3" r="9.2" fill="#1c1cff" stroke="#0000ff" stroke-width="1.2"/>
<circle cx="290.7" cy="1140.6" r="9.2" fill="#1c1cff" stroke="#0000ff" stroke-width="1.2"/>
<circle cx="146.5" cy="1144.3" r="9.2" fill="#1c1cff" stroke="#0000ff" stroke-width="1.2"/>
<circle cx="158.3" cy="1155.5" r="9.2" fill="#1c1cff" stroke="#0000ff" stroke-width="1.2"/>
<circle cx="172.5" cy="1156.2" r="9.2" fill="#1c1cff" stroke="#0000ff" stroke-width="1.2"/>
<circle cx="189.7" cy="1159.5" r="9.2" fill="#1c1cff" stroke="#0000ff" stroke-width="1.2"/>
<circle cx="196.9" cy="1168.4" r="9.2" fill="#1c1cff" stroke="#0000ff" stroke-width="1.2"/>
<circle cx="177.8" cy="1180.3" r="9.2" fill="#1c1cff" stroke="#0000ff" stroke-width="1.2"/>
<circle cx="218.1" cy="1170.4" r="9.2" fill="#1c1cff" stroke="#0000ff" stroke-width="1.2"/>
<circle cx="226.6" cy="1176.3" r="9.2" fill="#1c1cff" stroke="#0000ff" stroke-width="1.2"/>
<circle cx="255.0" cy="1181.6" r="9.2" fill="#1c1cff" stroke="#0000ff" stroke-width="1.2"/>
<circle cx="251.7" cy="1200.7" r="9.2" fill="#1c1cff" stroke="#0000ff" stroke-width="1.2"/>
<circle cx="235.2" cy="1213.3" r="9.2" fill="#1c1cff" stroke="#0000ff" stroke-width="1.2"/>
<circle cx="233.2" cy="1215.9" r="9.2" fill="#1c1cff" stroke="#0000ff" stroke-width="1.2"/>
<circle cx="279.4" cy="1223.8" r="9.2" fill="#1c1cff" stroke="#0000ff" stroke-width="1.2"/>
<circle cx="190.3" cy="1200.1" r="9.2" fill="#1c1cff" stroke="#0000ff" stroke-width="1.2"/>
<circle cx="150.1" cy="1191.5" r="9.2" fill="#1c1cff" stroke="#0000ff" stroke-width="1.2"/>
<circle cx="112.4" cy="1180.9" r="9.2" fill="#1c1cff" stroke="#0000ff" stroke-width="1.2"/>
<circle cx="118.4" cy="1186.2" r="9.2" fill="#1c1cff" stroke="#0000ff" stroke-width="1.2"/>
<circle cx="121.0" cy="1194.1" r="9.2" fill="#1c1cff" stroke="#0000ff" stroke-width="1.2"/>
<circle cx="128.9" cy="1188.8" r="9.2" fill="#1c1cff" stroke="#0000ff" stroke-width="1.2"/>
<circle cx="110.8" cy="1208.8" r="9.2" fill="#1c1cff" stroke="#0000ff" stroke-width="1.2"/>
<circle cx="124.0" cy="1196.4" r="9.2" fill="#1c1cff" stroke="#0000ff" stroke-width="1.2"/>
<circle cx="148.2" cy="1197.1" r="9.2" fill="#1c1cff" stroke="#0000ff" stroke-width="1.2"/>
<circle cx="140.6" cy="1217.8" r="9.2" fill="#1c1cff" stroke="#0000ff" stroke-width="1.2"/>
<circle cx="153.1" cy="1219.9" r="9.2" fill="#1c1cff" stroke="#0000ff" stroke-width="1.2"/>
<circle cx="125.4" cy="1220.6" r="9.2" fill="#1c1cff" stroke="#0000ff" stroke-width="1.2"/>
<circle cx="139.2" cy="1242.1" r="9.2" fill="#1c1cff" stroke="#0000ff" stroke-width="1.2"/>
<circle cx="125.4" cy="1275.3" r="9.2" fill="#1c1cff" stroke="#0000ff" stroke-width="1.2"/>
<circle cx="94.9" cy="1280.1" r="9.2" fill="#1c1cff" stroke="#0000ff" stroke-width="1.2"/>
<circle cx="377.9" cy="1041.2" r="9.2" fill="#1c1cff" stroke="#0000ff" stroke-width="1.2"/>
<circle cx="424.1" cy="1093.7" r="9.2" fill="#1c1cff" stroke="#0000ff" stroke-width="1.2"/>
<circle cx="169.2" cy="949.1" r="8.0" fill="#fff" stroke="#0000ff" stroke-width="1.7"/>
<circle cx="185.0" cy="950.7" r="8.0" fill="#fff" stroke="#0000ff" stroke-width="1.7"/>
<circle cx="145.1" cy="1035.0" r="8.0" fill="#fff" stroke="#0000ff" stroke-width="1.7"/>
<circle cx="119.8" cy="1046.5" r="8.0" fill="#fff" stroke="#0000ff" stroke-width="1.7"/>
<circle cx="253.3" cy="1069.7" r="8.0" fill="#fff" stroke="#0000ff" stroke-width="1.7"/>
<circle cx="168.2" cy="1105.1" r="8.0" fill="#fff" stroke="#0000ff" stroke-width="1.7"/>
<circle cx="165.6" cy="1127.8" r="8.0" fill="#fff" stroke="#0000ff" stroke-width="1.7"/>
<circle cx="132.0" cy="1127.1" r="8.0" fill="#fff" stroke="#0000ff" stroke-width="1.7"/>
<circle cx="115.7" cy="1143.0" r="8.0" fill="#fff" stroke="#0000ff" stroke-width="1.7"/>
<circle cx="130.9" cy="1154.9" r="8.0" fill="#fff" stroke="#0000ff" stroke-width="1.7"/>
<circle cx="112.2" cy="1162.1" r="8.0" fill="#fff" stroke="#0000ff" stroke-width="1.7"/>
<circle cx="191.0" cy="1171.0" r="8.0" fill="#fff" stroke="#0000ff" stroke-width="1.7"/>
<circle cx="118.8" cy="1212.0" r="8.0" fill="#fff" stroke="#0000ff" stroke-width="1.7"/>
<circle cx="104.3" cy="1224.1" r="8.0" fill="#fff" stroke="#0000ff" stroke-width="1.7"/>
<circle cx="121.9" cy="1233.8" r="8.0" fill="#fff" stroke="#0000ff" stroke-width="1.7"/>
<circle cx="108.1" cy="1240.0" r="8.0" fill="#fff" stroke="#0000ff" stroke-width="1.7"/>
<circle cx="99.8" cy="1244.8" r="8.0" fill="#fff" stroke="#0000ff" stroke-width="1.7"/>
<circle cx="141.6" cy="1232.4" r="8.0" fill="#fff" stroke="#0000ff" stroke-width="1.7"/>
<circle cx="132.3" cy="1251.1" r="8.0" fill="#fff" stroke="#0000ff" stroke-width="1.7"/>
<circle cx="101.1" cy="1257.3" r="8.0" fill="#fff" stroke="#0000ff" stroke-width="1.7"/>
<circle cx="113.6" cy="1255.9" r="8.0" fill="#fff" stroke="#0000ff" stroke-width="1.7"/>
<circle cx="105.0" cy="1266.3" r="8.0" fill="#fff" stroke="#0000ff" stroke-width="1.7"/>
<circle cx="119.1" cy="1274.6" r="8.0" fill="#fff" stroke="#0000ff" stroke-width="1.7"/>
<circle cx="112.2" cy="1281.2" r="8.0" fill="#fff" stroke="#0000ff" stroke-width="1.7"/>
<circle cx="102.5" cy="1282.2" r="8.0" fill="#fff" stroke="#0000ff" stroke-width="1.7"/>
<line x1="97.9" y1="1281.6" x2="642.6" y2="726.4" stroke="#111" stroke-width="1.9" stroke-dasharray="20.7 7.7 5.5 7.7"/>
<line x1="112.5" y1="1246.2" x2="570" y2="767.5" stroke="#0000ff" stroke-width="5"/>
<line x1="112.5" y1="1246.2" x2="221.5" y2="927.5" stroke="#0000ff" stroke-width="4.4" stroke-dasharray="21.5 4.8 11 4.8"/>
</g>
<g clip-path="url(#cd)">
<circle cx="1212.5" cy="928.8" r="9.4" fill="#0000ff"/>
<circle cx="1170.2" cy="956.9" r="9.4" fill="#0000ff"/>
<circle cx="1079.0" cy="973.8" r="9.4" fill="#0000ff"/>
<circle cx="1094.1" cy="986.5" r="9.4" fill="#0000ff"/>
<circle cx="1139.1" cy="987.5" r="9.4" fill="#0000ff"/>
<circle cx="1035.7" cy="997.5" r="9.4" fill="#0000ff"/>
<circle cx="1058.6" cy="1008.9" r="9.4" fill="#0000ff"/>
<circle cx="1010.9" cy="1033.3" r="9.4" fill="#0000ff"/>
<circle cx="1062.8" cy="1043.9" r="9.4" fill="#0000ff"/>
<circle cx="1021.8" cy="1060.8" r="9.4" fill="#0000ff"/>
<circle cx="1043.7" cy="1066.3" r="9.4" fill="#0000ff"/>
<circle cx="1117.4" cy="1071.2" r="9.4" fill="#0000ff"/>
<circle cx="1200.3" cy="1100.7" r="9.4" fill="#0000ff"/>
<circle cx="1017.3" cy="1089.4" r="9.4" fill="#0000ff"/>
<circle cx="1023.7" cy="1092.2" r="9.4" fill="#0000ff"/>
<circle cx="1035.5" cy="1093.6" r="9.4" fill="#0000ff"/>
<circle cx="918.2" cy="977.2" r="9.4" fill="#0000ff"/>
<circle cx="933.3" cy="977.2" r="9.4" fill="#0000ff"/>
<circle cx="974.5" cy="1022.4" r="9.4" fill="#0000ff"/>
<circle cx="994.7" cy="1036.6" r="9.4" fill="#0000ff"/>
<circle cx="948.3" cy="1096.8" r="9.4" fill="#0000ff"/>
<circle cx="1019.3" cy="1134.1" r="9.4" fill="#0000ff"/>
<circle cx="1028.0" cy="1207.5" r="9.4" fill="#0000ff"/>
<circle cx="925.0" cy="1153.3" r="9.4" fill="#0000ff"/>
<circle cx="927.1" cy="1176.8" r="9.4" fill="#0000ff"/>
<circle cx="933.3" cy="1175.4" r="9.4" fill="#0000ff"/>
<circle cx="981.1" cy="1181.7" r="9.4" fill="#0000ff"/>
<circle cx="905.7" cy="1199.0" r="9.4" fill="#0000ff"/>
<circle cx="907.0" cy="1212.8" r="9.4" fill="#0000ff"/>
<circle cx="911.9" cy="1230.1" r="9.4" fill="#0000ff"/>
<circle cx="908.4" cy="1230.8" r="9.4" fill="#0000ff"/>
<circle cx="876.6" cy="1212.1" r="9.4" fill="#0000ff"/>
<circle cx="857.9" cy="1220.4" r="9.4" fill="#0000ff"/>
<circle cx="868.3" cy="1221.8" r="9.4" fill="#0000ff"/>
<circle cx="844.8" cy="1238.4" r="9.4" fill="#0000ff"/>
<circle cx="1010.0" cy="1100.3" r="8.0" fill="#fff" stroke="#0000ff" stroke-width="1.7"/>
<circle cx="938.8" cy="1072.3" r="8.0" fill="#fff" stroke="#0000ff" stroke-width="1.7"/>
<circle cx="997.1" cy="1062.0" r="8.0" fill="#fff" stroke="#0000ff" stroke-width="1.7"/>
<circle cx="987.9" cy="1076.6" r="8.0" fill="#fff" stroke="#0000ff" stroke-width="1.7"/>
<circle cx="1009.8" cy="1099.2" r="8.0" fill="#fff" stroke="#0000ff" stroke-width="1.7"/>
<circle cx="989.5" cy="1113.5" r="8.0" fill="#fff" stroke="#0000ff" stroke-width="1.7"/>
<circle cx="955.5" cy="1137.0" r="8.0" fill="#fff" stroke="#0000ff" stroke-width="1.7"/>
<circle cx="842.4" cy="1158.1" r="8.0" fill="#fff" stroke="#0000ff" stroke-width="1.7"/>
<circle cx="866.5" cy="1176.8" r="8.0" fill="#fff" stroke="#0000ff" stroke-width="1.7"/>
<circle cx="873.8" cy="1169.9" r="8.0" fill="#fff" stroke="#0000ff" stroke-width="1.7"/>
<circle cx="962.0" cy="1210.7" r="8.0" fill="#fff" stroke="#0000ff" stroke-width="1.7"/>
<circle cx="964.5" cy="1212.8" r="8.0" fill="#fff" stroke="#0000ff" stroke-width="1.7"/>
<circle cx="916.0" cy="1239.8" r="8.0" fill="#fff" stroke="#0000ff" stroke-width="1.7"/>
<circle cx="839.2" cy="1249.5" r="8.0" fill="#fff" stroke="#0000ff" stroke-width="1.7"/>
<circle cx="851.7" cy="1242.6" r="8.0" fill="#fff" stroke="#0000ff" stroke-width="1.7"/>
<circle cx="849.6" cy="1270.9" r="8.0" fill="#fff" stroke="#0000ff" stroke-width="1.7"/>
<circle cx="837.1" cy="1271.6" r="8.0" fill="#fff" stroke="#0000ff" stroke-width="1.7"/>
<circle cx="824.0" cy="1278.5" r="8.0" fill="#fff" stroke="#0000ff" stroke-width="1.7"/>
<circle cx="827.5" cy="1281.3" r="8.0" fill="#fff" stroke="#0000ff" stroke-width="1.7"/>
<circle cx="819.2" cy="1279.9" r="8.0" fill="#fff" stroke="#0000ff" stroke-width="1.7"/>
<line x1="820.5" y1="1281.6" x2="1365.2" y2="726.4" stroke="#111" stroke-width="1.9" stroke-dasharray="20.7 7.7 5.5 7.7"/>
<line x1="834.4" y1="1267.5" x2="1202.3" y2="895.0" stroke="#0000ff" stroke-width="5"/>
<line x1="834.4" y1="1267.5" x2="1049.5" y2="1014.5" stroke="#0000ff" stroke-width="4.4" stroke-dasharray="21.5 4.8 11 4.8"/>
</g>
<circle cx="874.5" cy="758.8" r="8.3" fill="#0000ff"/>
<circle cx="874.5" cy="803.3" r="7.6" fill="#fff" stroke="#0000ff" stroke-width="1.6"/>
<text x="898.5" y="769.1" font-size="27.5" text-anchor="start" font-weight="normal" >Winter</text>
<text x="898.5" y="813.5" font-size="27.5" text-anchor="start" font-weight="normal" >Summer</text>
<text x="924.4" y="854.5" font-size="27.5" text-anchor="start" font-weight="normal" >1:1</text>
<line x1="834.8" y1="848.1" x2="911.5" y2="848.1" stroke="#333" stroke-width="1.6" stroke-dasharray="21.3 7.4 5.5 7.4"/>
<line x1="1081.5" y1="758.7" x2="1160.7" y2="758.7" stroke="#0000ff" stroke-width="5.5"/>
<line x1="1081.5" y1="803.2" x2="1160.7" y2="803.2" stroke="#0000ff" stroke-width="5.5" stroke-dasharray="20.5 5.7 10.2 5.7"/>
<text x="1178.5" y="766.6" font-size="27.5" text-anchor="start" font-weight="normal" >Winter fit</text>
<text x="1178.5" y="811.2" font-size="27.5" text-anchor="start" font-weight="normal" >Summer fit</text>
<text x="345.2" y="1170.6" font-size="27.5" text-anchor="start" font-weight="normal" >Winter:</text>
<text x="345.2" y="1210.2" font-size="27.5" text-anchor="start" font-weight="normal" ><tspan font-style="italic">r</tspan> = 0.82</text>
<text x="345.2" y="1249.4" font-size="27.5" text-anchor="start" font-weight="normal" >Slope = 1.0 ± 0.2</text>
<text x="1065.7" y="1182.1" font-size="27.5" text-anchor="start" font-weight="normal" >Winter:</text>
<text x="1065.7" y="1215.1" font-size="27.5" text-anchor="start" font-weight="normal" ><tspan font-style="italic">r</tspan> = 0.70</text>
<text x="1065.7" y="1245.9" font-size="27.5" text-anchor="start" font-weight="normal" >Slope = 1.0 ± 0.2</text>
</svg></body></html>
